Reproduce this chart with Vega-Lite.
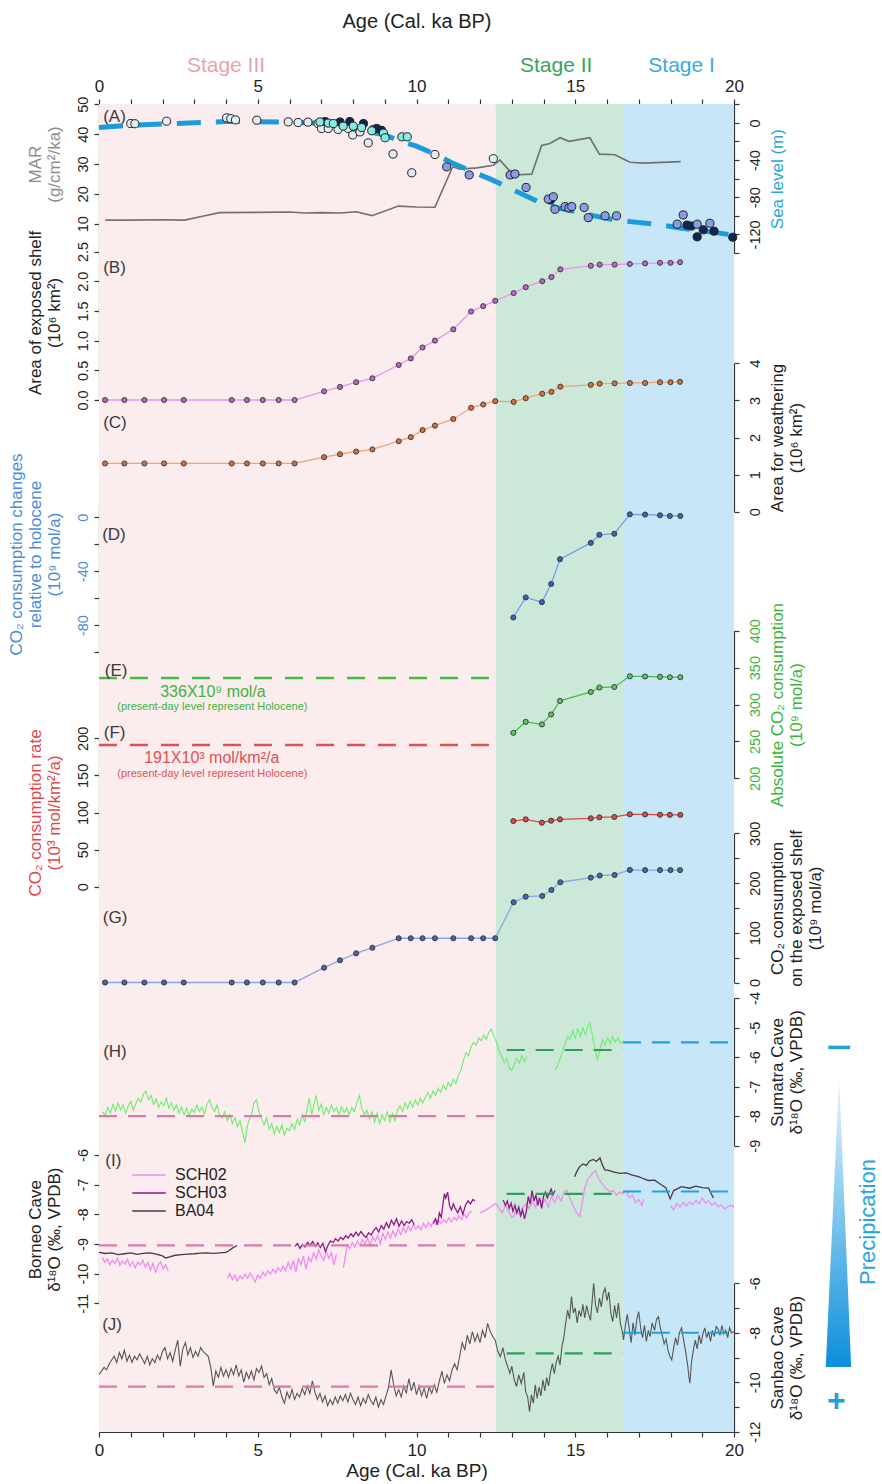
{
  "$schema": "https://vega.github.io/schema/vega-lite/v6.json",
  "width": 635,
  "height": 1328,
  "autosize": {"type": "none"},
  "padding": {"left": 99, "top": 104, "right": 148, "bottom": 52},
  "config": {
    "font": "Liberation Sans",
    "view": {"stroke": null},
    "axis": {
      "grid": false,
      "domainColor": "#333333",
      "tickColor": "#333333",
      "domainWidth": 1.2,
      "tickWidth": 1.2,
      "tickSize": 5,
      "labelColor": "#222222",
      "labelFontSize": 14.5,
      "labelOverlap": false,
      "titleFontSize": 17,
      "titleFontWeight": "normal",
      "titleColor": "#222222",
      "titleLineHeight": 19
    }
  },
  "datasets": {
    "stages": [
      {"stage": "III", "name": "Stage III", "start": 0, "end": 12.5, "labelAge": 4.0},
      {"stage": "II", "name": "Stage II", "start": 12.5, "end": 16.5, "labelAge": 14.4},
      {"stage": "I", "name": "Stage I", "start": 16.5, "end": 20, "labelAge": 18.35}
    ],
    "mar": [
      {"age": 0.2, "mar": 11.2}, {"age": 1.0, "mar": 11.2}, {"age": 2.0, "mar": 11.3}, {"age": 2.7, "mar": 11.2},
      {"age": 3.3, "mar": 12.6}, {"age": 3.8, "mar": 13.7}, {"age": 5.0, "mar": 13.8}, {"age": 6.0, "mar": 13.9},
      {"age": 6.5, "mar": 13.6}, {"age": 7.0, "mar": 13.7}, {"age": 7.6, "mar": 13.6}, {"age": 8.1, "mar": 14.0},
      {"age": 8.6, "mar": 12.7}, {"age": 9.43, "mar": 15.9}, {"age": 10.0, "mar": 15.6}, {"age": 10.58, "mar": 15.5},
      {"age": 11.14, "mar": 29.1}, {"age": 11.37, "mar": 28.3}, {"age": 11.9, "mar": 28.7}, {"age": 12.42, "mar": 29.6},
      {"age": 12.63, "mar": 31.3}, {"age": 13.05, "mar": 26.3}, {"age": 13.63, "mar": 26.6}, {"age": 13.94, "mar": 36.2},
      {"age": 14.2, "mar": 36.9}, {"age": 14.52, "mar": 38.8}, {"age": 14.8, "mar": 37.6}, {"age": 15.46, "mar": 38.8},
      {"age": 15.76, "mar": 33.3}, {"age": 16.25, "mar": 33.1}, {"age": 16.72, "mar": 30.6}, {"age": 17.14, "mar": 30.3},
      {"age": 18.32, "mar": 30.8}
    ],
    "sealevel_curve": [
      {"age": 0, "sl": -4.9}, {"age": 1, "sl": -2.5}, {"age": 2.4, "sl": -0.6}, {"age": 4, "sl": 1.5},
      {"age": 6, "sl": 1.0}, {"age": 7, "sl": -0.6}, {"age": 7.7, "sl": -3}, {"age": 8.4, "sl": -8.6},
      {"age": 9, "sl": -13}, {"age": 9.5, "sl": -19.7}, {"age": 10, "sl": -25}, {"age": 10.6, "sl": -34},
      {"age": 11.16, "sl": -43.7}, {"age": 11.8, "sl": -53}, {"age": 12.4, "sl": -61.6}, {"age": 13.1, "sl": -73},
      {"age": 13.8, "sl": -84.2}, {"age": 14.4, "sl": -91}, {"age": 15.04, "sl": -95.7}, {"age": 15.6, "sl": -100},
      {"age": 16.1, "sl": -103.5}, {"age": 16.8, "sl": -106.5}, {"age": 17.56, "sl": -109.2}, {"age": 18.3, "sl": -113},
      {"age": 19.1, "sl": -116.5}, {"age": 20, "sl": -120.8}
    ],
    "sealevel_points": [
      {"age": 1.0, "sl": -0.7, "src": "w"}, {"age": 1.13, "sl": -0.9, "src": "w"}, {"age": 2.13, "sl": 1.8, "src": "w"},
      {"age": 4.02, "sl": 5.4, "src": "w"}, {"age": 4.15, "sl": 4.6, "src": "w"}, {"age": 4.3, "sl": 3.2, "src": "w"},
      {"age": 4.97, "sl": 2.9, "src": "w"}, {"age": 5.96, "sl": 1.1, "src": "w"}, {"age": 6.27, "sl": 0.4, "src": "w"},
      {"age": 6.58, "sl": 0.8, "src": "w"}, {"age": 6.9, "sl": -0.7, "src": "w"}, {"age": 7.01, "sl": -6, "src": "w"},
      {"age": 7.22, "sl": -6, "src": "w"}, {"age": 7.53, "sl": -7, "src": "w"}, {"age": 7.85, "sl": -6, "src": "w"},
      {"age": 7.99, "sl": -13, "src": "w"}, {"age": 8.22, "sl": -9.7, "src": "w"}, {"age": 8.48, "sl": -21.5, "src": "w"},
      {"age": 8.64, "sl": -7, "src": "w"}, {"age": 9.26, "sl": -33.5, "src": "w"}, {"age": 9.85, "sl": -53.7, "src": "w"},
      {"age": 10.58, "sl": -34, "src": "w"}, {"age": 12.42, "sl": -38.5, "src": "w"},
      {"age": 7.12, "sl": 1.5, "src": "n"}, {"age": 7.59, "sl": 1.0, "src": "n"}, {"age": 7.9, "sl": 1.5, "src": "n"},
      {"age": 8.33, "sl": -0.7, "src": "n"}, {"age": 8.75, "sl": -6, "src": "n"}, {"age": 8.9, "sl": -8, "src": "n"},
      {"age": 6.96, "sl": 1.0, "src": "c"}, {"age": 7.22, "sl": -0.2, "src": "c"}, {"age": 7.38, "sl": -0.7, "src": "c"},
      {"age": 7.69, "sl": -3.5, "src": "c"}, {"age": 8.01, "sl": -3.5, "src": "c"}, {"age": 8.27, "sl": -5, "src": "c"},
      {"age": 8.59, "sl": -8.5, "src": "c"}, {"age": 8.96, "sl": -11, "src": "c"}, {"age": 9.01, "sl": -16, "src": "c"},
      {"age": 9.54, "sl": -15, "src": "c"}, {"age": 9.71, "sl": -15, "src": "c"},
      {"age": 14.22, "sl": -83, "src": "n"}, {"age": 18.52, "sl": -110, "src": "n"}, {"age": 18.66, "sl": -111, "src": "n"},
      {"age": 18.84, "sl": -122.6, "src": "n"}, {"age": 19.03, "sl": -115, "src": "n"}, {"age": 19.37, "sl": -116.5, "src": "n"},
      {"age": 19.96, "sl": -123, "src": "n"},
      {"age": 10.95, "sl": -47.3, "src": "b"}, {"age": 11.66, "sl": -56, "src": "b"}, {"age": 12.95, "sl": -56, "src": "b"},
      {"age": 13.1, "sl": -55, "src": "b"}, {"age": 13.45, "sl": -69.5, "src": "b"}, {"age": 14.15, "sl": -82, "src": "b"},
      {"age": 14.31, "sl": -79.5, "src": "b"}, {"age": 14.36, "sl": -93, "src": "b"}, {"age": 14.68, "sl": -90, "src": "b"},
      {"age": 14.8, "sl": -91.5, "src": "b"}, {"age": 14.89, "sl": -90, "src": "b"}, {"age": 15.28, "sl": -91, "src": "b"},
      {"age": 15.41, "sl": -102, "src": "b"}, {"age": 15.94, "sl": -100, "src": "b"}, {"age": 16.3, "sl": -100, "src": "b"},
      {"age": 18.21, "sl": -109, "src": "b"}, {"age": 18.4, "sl": -99, "src": "b"}, {"age": 18.84, "sl": -109, "src": "b"},
      {"age": 19.24, "sl": -108, "src": "b"}
    ],
    "shelf": [
      {"age": 0.19, "area": 0, "weather": 1.30, "shelfco2": 0},
      {"age": 0.8, "area": 0, "weather": 1.30, "shelfco2": 0},
      {"age": 1.43, "area": 0, "weather": 1.30, "shelfco2": 0},
      {"age": 2.05, "area": 0, "weather": 1.30, "shelfco2": 0},
      {"age": 2.67, "area": 0, "weather": 1.30, "shelfco2": 0},
      {"age": 4.18, "area": 0, "weather": 1.30, "shelfco2": 0},
      {"age": 4.66, "area": 0, "weather": 1.30, "shelfco2": 0},
      {"age": 5.16, "area": 0, "weather": 1.30, "shelfco2": 0},
      {"age": 5.66, "area": 0, "weather": 1.30, "shelfco2": 0},
      {"age": 6.16, "area": 0, "weather": 1.30, "shelfco2": 0},
      {"age": 7.09, "area": 0.146, "weather": 1.47, "shelfco2": 29.8},
      {"age": 7.59, "area": 0.22, "weather": 1.55, "shelfco2": 44.7},
      {"age": 8.1, "area": 0.30, "weather": 1.62, "shelfco2": 58.7},
      {"age": 8.61, "area": 0.365, "weather": 1.68, "shelfco2": 70},
      {"age": 9.44, "area": 0.59, "weather": 1.90, "shelfco2": 89},
      {"age": 9.82, "area": 0.70, "weather": 2.01, "shelfco2": 89},
      {"age": 10.19, "area": 0.885, "weather": 2.20, "shelfco2": 89},
      {"age": 10.58, "area": 1.0, "weather": 2.32, "shelfco2": 89},
      {"age": 11.16, "area": 1.19, "weather": 2.50, "shelfco2": 89},
      {"age": 11.72, "area": 1.49, "weather": 2.80, "shelfco2": 89},
      {"age": 12.1, "area": 1.58, "weather": 2.89, "shelfco2": 89},
      {"age": 12.48, "area": 1.67, "weather": 2.98, "shelfco2": 89},
      {"age": 13.06, "area": 1.80, "weather": 2.96, "shelfco2": 161.4},
      {"age": 13.44, "area": 1.90, "weather": 3.06, "shelfco2": 172.6},
      {"age": 13.96, "area": 2.0, "weather": 3.18, "shelfco2": 174},
      {"age": 14.25, "area": 2.07, "weather": 3.23, "shelfco2": 186},
      {"age": 14.53, "area": 2.2, "weather": 3.37, "shelfco2": 201.6},
      {"age": 15.49, "area": 2.26, "weather": 3.42, "shelfco2": 210.9},
      {"age": 15.77, "area": 2.28, "weather": 3.45, "shelfco2": 215},
      {"age": 16.24, "area": 2.28, "weather": 3.46, "shelfco2": 216.3},
      {"age": 16.72, "area": 2.29, "weather": 3.47, "shelfco2": 226.4},
      {"age": 17.2, "area": 2.30, "weather": 3.47, "shelfco2": 226},
      {"age": 17.67, "area": 2.31, "weather": 3.49, "shelfco2": 226},
      {"age": 18.0, "area": 2.31, "weather": 3.49, "shelfco2": 226},
      {"age": 18.3, "area": 2.32, "weather": 3.50, "shelfco2": 226}
    ],
    "co2": [
      {"age": 13.05, "change": -74.4, "absolute": 261.6, "rate": 88.5},
      {"age": 13.44, "change": -59.5, "absolute": 276.5, "rate": 90.8},
      {"age": 13.95, "change": -63.0, "absolute": 273.0, "rate": 86.3},
      {"age": 14.24, "change": -49.5, "absolute": 286.5, "rate": 89.0},
      {"age": 14.52, "change": -31.1, "absolute": 304.9, "rate": 90.8},
      {"age": 15.49, "change": -19.0, "absolute": 317.0, "rate": 92.2},
      {"age": 15.76, "change": -13.0, "absolute": 323.0, "rate": 93.5},
      {"age": 16.23, "change": -12.2, "absolute": 323.8, "rate": 94.0},
      {"age": 16.72, "change": 2.2, "absolute": 338.2, "rate": 97.6},
      {"age": 17.2, "change": 2.0, "absolute": 338.0, "rate": 97.4},
      {"age": 17.67, "change": 1.5, "absolute": 337.5, "rate": 97.0},
      {"age": 17.98, "change": 1.0, "absolute": 337.0, "rate": 96.8},
      {"age": 18.31, "change": 1.0, "absolute": 337.0, "rate": 96.8}
    ],
    "present_day": [
      {"panel": "E", "value": 336, "start": 0, "end": 12.5},
      {"panel": "F", "value": 191, "start": 0, "end": 12.5}
    ],
    "stage_means": [
      {"record": "H", "stage": "III", "start": 0, "end": 12.5, "mean": -8.0},
      {"record": "H", "stage": "II", "start": 12.84, "end": 16.5, "mean": -5.76},
      {"record": "H", "stage": "I", "start": 16.5, "end": 20, "mean": -5.5},
      {"record": "I", "stage": "III", "start": 0, "end": 12.5, "mean": -9.05},
      {"record": "I", "stage": "II", "start": 12.84, "end": 16.5, "mean": -7.31},
      {"record": "I", "stage": "I", "start": 16.5, "end": 20, "mean": -7.23},
      {"record": "J", "stage": "III", "start": 0, "end": 12.5, "mean": -10.18},
      {"record": "J", "stage": "II", "start": 12.84, "end": 16.5, "mean": -8.83},
      {"record": "J", "stage": "I", "start": 16.5, "end": 20, "mean": -8.0}
    ],
    "sumatra": [
      {"age": 0.10, "d18O": -7.85, "seg": 1}, {"age": 0.20, "d18O": -7.95, "seg": 1}, {"age": 0.28, "d18O": -7.70, "seg": 1},
      {"age": 0.36, "d18O": -7.90, "seg": 1}, {"age": 0.44, "d18O": -7.60, "seg": 1}, {"age": 0.52, "d18O": -7.82, "seg": 1},
      {"age": 0.60, "d18O": -7.55, "seg": 1}, {"age": 0.68, "d18O": -7.78, "seg": 1}, {"age": 0.76, "d18O": -7.62, "seg": 1},
      {"age": 0.84, "d18O": -7.90, "seg": 1}, {"age": 0.92, "d18O": -7.65, "seg": 1}, {"age": 1.00, "d18O": -7.50, "seg": 1},
      {"age": 1.08, "d18O": -7.80, "seg": 1}, {"age": 1.16, "d18O": -7.58, "seg": 1}, {"age": 1.24, "d18O": -7.40, "seg": 1},
      {"age": 1.32, "d18O": -7.52, "seg": 1}, {"age": 1.40, "d18O": -7.25, "seg": 1}, {"age": 1.48, "d18O": -7.15, "seg": 1},
      {"age": 1.56, "d18O": -7.45, "seg": 1}, {"age": 1.64, "d18O": -7.30, "seg": 1}, {"age": 1.72, "d18O": -7.60, "seg": 1},
      {"age": 1.80, "d18O": -7.42, "seg": 1}, {"age": 1.88, "d18O": -7.70, "seg": 1}, {"age": 1.96, "d18O": -7.52, "seg": 1},
      {"age": 2.04, "d18O": -7.65, "seg": 1}, {"age": 2.12, "d18O": -7.40, "seg": 1}, {"age": 2.20, "d18O": -7.72, "seg": 1},
      {"age": 2.28, "d18O": -7.55, "seg": 1}, {"age": 2.36, "d18O": -7.80, "seg": 1}, {"age": 2.44, "d18O": -7.62, "seg": 1},
      {"age": 2.52, "d18O": -7.90, "seg": 1}, {"age": 2.60, "d18O": -7.70, "seg": 1}, {"age": 2.68, "d18O": -7.95, "seg": 1},
      {"age": 2.76, "d18O": -7.72, "seg": 1}, {"age": 2.84, "d18O": -8.00, "seg": 1}, {"age": 2.92, "d18O": -7.76, "seg": 1},
      {"age": 3.00, "d18O": -7.88, "seg": 1}, {"age": 3.08, "d18O": -7.62, "seg": 1}, {"age": 3.16, "d18O": -7.84, "seg": 1},
      {"age": 3.24, "d18O": -7.70, "seg": 1}, {"age": 3.32, "d18O": -7.92, "seg": 1}, {"age": 3.40, "d18O": -7.60, "seg": 1},
      {"age": 3.48, "d18O": -7.45, "seg": 1}, {"age": 3.56, "d18O": -7.70, "seg": 1}, {"age": 3.64, "d18O": -7.85, "seg": 1},
      {"age": 3.72, "d18O": -7.62, "seg": 1}, {"age": 3.80, "d18O": -7.98, "seg": 1}, {"age": 3.88, "d18O": -8.05, "seg": 1},
      {"age": 3.96, "d18O": -7.85, "seg": 1}, {"age": 4.04, "d18O": -8.15, "seg": 1}, {"age": 4.12, "d18O": -7.95, "seg": 1},
      {"age": 4.20, "d18O": -8.25, "seg": 1}, {"age": 4.28, "d18O": -8.05, "seg": 1}, {"age": 4.36, "d18O": -8.35, "seg": 1},
      {"age": 4.44, "d18O": -8.15, "seg": 1}, {"age": 4.52, "d18O": -8.55, "seg": 1}, {"age": 4.60, "d18O": -8.90, "seg": 1},
      {"age": 4.66, "d18O": -8.40, "seg": 1}, {"age": 4.72, "d18O": -8.15, "seg": 1}, {"age": 4.80, "d18O": -7.95, "seg": 1},
      {"age": 4.88, "d18O": -7.55, "seg": 1}, {"age": 4.96, "d18O": -7.45, "seg": 1}, {"age": 5.04, "d18O": -7.85, "seg": 1},
      {"age": 5.12, "d18O": -8.10, "seg": 1}, {"age": 5.20, "d18O": -8.30, "seg": 1}, {"age": 5.28, "d18O": -8.05, "seg": 1},
      {"age": 5.36, "d18O": -8.45, "seg": 1}, {"age": 5.44, "d18O": -8.25, "seg": 1}, {"age": 5.52, "d18O": -8.60, "seg": 1},
      {"age": 5.60, "d18O": -8.35, "seg": 1}, {"age": 5.68, "d18O": -8.55, "seg": 1}, {"age": 5.76, "d18O": -8.30, "seg": 1},
      {"age": 5.84, "d18O": -8.65, "seg": 1}, {"age": 5.92, "d18O": -8.40, "seg": 1}, {"age": 6.00, "d18O": -8.50, "seg": 1},
      {"age": 6.08, "d18O": -8.25, "seg": 1}, {"age": 6.16, "d18O": -8.45, "seg": 1}, {"age": 6.24, "d18O": -8.10, "seg": 1},
      {"age": 6.32, "d18O": -8.30, "seg": 1}, {"age": 6.40, "d18O": -7.95, "seg": 1}, {"age": 6.48, "d18O": -8.20, "seg": 1},
      {"age": 6.56, "d18O": -7.70, "seg": 1}, {"age": 6.62, "d18O": -7.40, "seg": 1}, {"age": 6.70, "d18O": -7.95, "seg": 1},
      {"age": 6.78, "d18O": -7.55, "seg": 1}, {"age": 6.84, "d18O": -7.30, "seg": 1}, {"age": 6.92, "d18O": -7.80, "seg": 1},
      {"age": 7.00, "d18O": -7.60, "seg": 1}, {"age": 7.08, "d18O": -7.95, "seg": 1}, {"age": 7.16, "d18O": -7.70, "seg": 1},
      {"age": 7.24, "d18O": -7.90, "seg": 1}, {"age": 7.32, "d18O": -7.62, "seg": 1}, {"age": 7.40, "d18O": -7.85, "seg": 1},
      {"age": 7.48, "d18O": -7.70, "seg": 1}, {"age": 7.56, "d18O": -7.95, "seg": 1}, {"age": 7.64, "d18O": -7.68, "seg": 1},
      {"age": 7.72, "d18O": -7.88, "seg": 1}, {"age": 7.80, "d18O": -7.72, "seg": 1}, {"age": 7.88, "d18O": -7.95, "seg": 1},
      {"age": 7.96, "d18O": -7.70, "seg": 1}, {"age": 8.04, "d18O": -7.85, "seg": 1}, {"age": 8.12, "d18O": -7.55, "seg": 1},
      {"age": 8.20, "d18O": -7.30, "seg": 1}, {"age": 8.28, "d18O": -7.75, "seg": 1}, {"age": 8.36, "d18O": -7.95, "seg": 1},
      {"age": 8.44, "d18O": -7.80, "seg": 1}, {"age": 8.52, "d18O": -8.10, "seg": 1}, {"age": 8.60, "d18O": -7.85, "seg": 1},
      {"age": 8.68, "d18O": -8.20, "seg": 1}, {"age": 8.76, "d18O": -7.90, "seg": 1}, {"age": 8.84, "d18O": -8.25, "seg": 1},
      {"age": 8.92, "d18O": -7.95, "seg": 1}, {"age": 9.00, "d18O": -8.15, "seg": 1}, {"age": 9.08, "d18O": -7.85, "seg": 1},
      {"age": 9.16, "d18O": -8.20, "seg": 1}, {"age": 9.24, "d18O": -7.90, "seg": 1}, {"age": 9.32, "d18O": -8.15, "seg": 1},
      {"age": 9.40, "d18O": -7.80, "seg": 1}, {"age": 9.48, "d18O": -7.65, "seg": 1}, {"age": 9.56, "d18O": -7.85, "seg": 1},
      {"age": 9.64, "d18O": -7.55, "seg": 1}, {"age": 9.72, "d18O": -7.75, "seg": 1}, {"age": 9.80, "d18O": -7.50, "seg": 1},
      {"age": 9.88, "d18O": -7.70, "seg": 1}, {"age": 9.96, "d18O": -7.45, "seg": 1}, {"age": 10.04, "d18O": -7.62, "seg": 1},
      {"age": 10.12, "d18O": -7.40, "seg": 1}, {"age": 10.20, "d18O": -7.55, "seg": 1}, {"age": 10.28, "d18O": -7.35, "seg": 1},
      {"age": 10.36, "d18O": -7.20, "seg": 1}, {"age": 10.44, "d18O": -7.40, "seg": 1}, {"age": 10.52, "d18O": -7.15, "seg": 1},
      {"age": 10.60, "d18O": -7.30, "seg": 1}, {"age": 10.68, "d18O": -7.05, "seg": 1}, {"age": 10.76, "d18O": -7.20, "seg": 1},
      {"age": 10.84, "d18O": -6.95, "seg": 1}, {"age": 10.92, "d18O": -7.10, "seg": 1}, {"age": 11.00, "d18O": -6.85, "seg": 1},
      {"age": 11.08, "d18O": -7.00, "seg": 1}, {"age": 11.16, "d18O": -6.75, "seg": 1}, {"age": 11.24, "d18O": -6.90, "seg": 1},
      {"age": 11.32, "d18O": -6.60, "seg": 1}, {"age": 11.40, "d18O": -6.45, "seg": 1}, {"age": 11.48, "d18O": -6.10, "seg": 1},
      {"age": 11.56, "d18O": -5.85, "seg": 1}, {"age": 11.64, "d18O": -5.95, "seg": 1}, {"age": 11.72, "d18O": -5.65, "seg": 1},
      {"age": 11.80, "d18O": -5.50, "seg": 1}, {"age": 11.88, "d18O": -5.60, "seg": 1}, {"age": 11.96, "d18O": -5.35, "seg": 1},
      {"age": 12.04, "d18O": -5.45, "seg": 1}, {"age": 12.12, "d18O": -5.25, "seg": 1}, {"age": 12.20, "d18O": -5.40, "seg": 1},
      {"age": 12.28, "d18O": -5.15, "seg": 1}, {"age": 12.36, "d18O": -5.05, "seg": 1}, {"age": 12.44, "d18O": -5.30, "seg": 1},
      {"age": 12.52, "d18O": -5.50, "seg": 1}, {"age": 12.60, "d18O": -5.80, "seg": 1}, {"age": 12.68, "d18O": -5.95, "seg": 1},
      {"age": 12.76, "d18O": -6.20, "seg": 1}, {"age": 12.84, "d18O": -6.05, "seg": 1}, {"age": 12.92, "d18O": -6.35, "seg": 1},
      {"age": 13.00, "d18O": -6.45, "seg": 1}, {"age": 13.08, "d18O": -6.25, "seg": 1}, {"age": 13.16, "d18O": -6.05, "seg": 1},
      {"age": 13.24, "d18O": -6.20, "seg": 1}, {"age": 13.32, "d18O": -5.95, "seg": 1}, {"age": 13.40, "d18O": -6.15, "seg": 1},
      {"age": 13.48, "d18O": -6.00, "seg": 1},
      {"age": 14.36, "d18O": -6.45, "seg": 2}, {"age": 14.44, "d18O": -6.30, "seg": 2}, {"age": 14.52, "d18O": -6.05, "seg": 2},
      {"age": 14.60, "d18O": -5.80, "seg": 2}, {"age": 14.68, "d18O": -5.55, "seg": 2}, {"age": 14.76, "d18O": -5.30, "seg": 2},
      {"age": 14.84, "d18O": -5.40, "seg": 2}, {"age": 14.92, "d18O": -5.10, "seg": 2}, {"age": 15.00, "d18O": -5.35, "seg": 2},
      {"age": 15.08, "d18O": -5.05, "seg": 2}, {"age": 15.16, "d18O": -5.30, "seg": 2}, {"age": 15.24, "d18O": -5.00, "seg": 2},
      {"age": 15.32, "d18O": -5.25, "seg": 2}, {"age": 15.40, "d18O": -4.95, "seg": 2}, {"age": 15.46, "d18O": -4.85, "seg": 2},
      {"age": 15.54, "d18O": -5.25, "seg": 2}, {"age": 15.62, "d18O": -5.70, "seg": 2}, {"age": 15.70, "d18O": -6.10, "seg": 2},
      {"age": 15.78, "d18O": -5.75, "seg": 2}, {"age": 15.86, "d18O": -5.40, "seg": 2}, {"age": 15.94, "d18O": -5.60, "seg": 2},
      {"age": 16.02, "d18O": -5.35, "seg": 2}, {"age": 16.10, "d18O": -5.55, "seg": 2}, {"age": 16.18, "d18O": -5.30, "seg": 2},
      {"age": 16.26, "d18O": -5.50, "seg": 2}, {"age": 16.34, "d18O": -5.35, "seg": 2}, {"age": 16.42, "d18O": -5.55, "seg": 2},
      {"age": 16.50, "d18O": -5.45, "seg": 2}
    ],
    "borneo": [
      {"age": 0.10, "d18O": -9.45, "series": "SCH02", "seg": "a"}, {"age": 0.18, "d18O": -9.62, "series": "SCH02", "seg": "a"},
      {"age": 0.26, "d18O": -9.50, "series": "SCH02", "seg": "a"}, {"age": 0.34, "d18O": -9.70, "series": "SCH02", "seg": "a"},
      {"age": 0.42, "d18O": -9.55, "series": "SCH02", "seg": "a"}, {"age": 0.50, "d18O": -9.65, "series": "SCH02", "seg": "a"},
      {"age": 0.58, "d18O": -9.48, "series": "SCH02", "seg": "a"}, {"age": 0.66, "d18O": -9.72, "series": "SCH02", "seg": "a"},
      {"age": 0.74, "d18O": -9.58, "series": "SCH02", "seg": "a"}, {"age": 0.82, "d18O": -9.68, "series": "SCH02", "seg": "a"},
      {"age": 0.90, "d18O": -9.52, "series": "SCH02", "seg": "a"}, {"age": 0.98, "d18O": -9.75, "series": "SCH02", "seg": "a"},
      {"age": 1.06, "d18O": -9.60, "series": "SCH02", "seg": "a"}, {"age": 1.14, "d18O": -9.80, "series": "SCH02", "seg": "a"},
      {"age": 1.22, "d18O": -9.62, "series": "SCH02", "seg": "a"}, {"age": 1.30, "d18O": -9.70, "series": "SCH02", "seg": "a"},
      {"age": 1.38, "d18O": -9.55, "series": "SCH02", "seg": "a"}, {"age": 1.46, "d18O": -9.78, "series": "SCH02", "seg": "a"},
      {"age": 1.54, "d18O": -9.62, "series": "SCH02", "seg": "a"}, {"age": 1.62, "d18O": -9.88, "series": "SCH02", "seg": "a"},
      {"age": 1.70, "d18O": -9.66, "series": "SCH02", "seg": "a"}, {"age": 1.78, "d18O": -9.95, "series": "SCH02", "seg": "a"},
      {"age": 1.86, "d18O": -9.72, "series": "SCH02", "seg": "a"}, {"age": 1.94, "d18O": -9.60, "series": "SCH02", "seg": "a"},
      {"age": 2.02, "d18O": -9.85, "series": "SCH02", "seg": "a"}, {"age": 2.10, "d18O": -9.70, "series": "SCH02", "seg": "a"},
      {"age": 2.18, "d18O": -9.92, "series": "SCH02", "seg": "a"},
      {"age": 4.05, "d18O": -10.15, "series": "SCH02", "seg": "b"}, {"age": 4.12, "d18O": -10.00, "series": "SCH02", "seg": "b"},
      {"age": 4.20, "d18O": -10.20, "series": "SCH02", "seg": "b"}, {"age": 4.28, "d18O": -10.05, "series": "SCH02", "seg": "b"},
      {"age": 4.36, "d18O": -10.25, "series": "SCH02", "seg": "b"}, {"age": 4.44, "d18O": -10.08, "series": "SCH02", "seg": "b"},
      {"age": 4.52, "d18O": -10.18, "series": "SCH02", "seg": "b"}, {"age": 4.60, "d18O": -10.02, "series": "SCH02", "seg": "b"},
      {"age": 4.68, "d18O": -10.15, "series": "SCH02", "seg": "b"}, {"age": 4.76, "d18O": -9.98, "series": "SCH02", "seg": "b"},
      {"age": 4.84, "d18O": -10.12, "series": "SCH02", "seg": "b"}, {"age": 4.92, "d18O": -10.28, "series": "SCH02", "seg": "b"},
      {"age": 5.00, "d18O": -10.05, "series": "SCH02", "seg": "b"}, {"age": 5.08, "d18O": -10.15, "series": "SCH02", "seg": "b"},
      {"age": 5.16, "d18O": -9.95, "series": "SCH02", "seg": "b"}, {"age": 5.24, "d18O": -10.08, "series": "SCH02", "seg": "b"},
      {"age": 5.32, "d18O": -9.90, "series": "SCH02", "seg": "b"}, {"age": 5.40, "d18O": -10.02, "series": "SCH02", "seg": "b"},
      {"age": 5.48, "d18O": -9.85, "series": "SCH02", "seg": "b"}, {"age": 5.56, "d18O": -9.98, "series": "SCH02", "seg": "b"},
      {"age": 5.64, "d18O": -9.80, "series": "SCH02", "seg": "b"}, {"age": 5.72, "d18O": -9.92, "series": "SCH02", "seg": "b"},
      {"age": 5.80, "d18O": -9.75, "series": "SCH02", "seg": "b"}, {"age": 5.88, "d18O": -9.90, "series": "SCH02", "seg": "b"},
      {"age": 5.96, "d18O": -9.62, "series": "SCH02", "seg": "b"}, {"age": 6.04, "d18O": -9.85, "series": "SCH02", "seg": "b"},
      {"age": 6.12, "d18O": -9.55, "series": "SCH02", "seg": "b"}, {"age": 6.20, "d18O": -9.95, "series": "SCH02", "seg": "b"},
      {"age": 6.28, "d18O": -9.50, "series": "SCH02", "seg": "b"}, {"age": 6.36, "d18O": -9.70, "series": "SCH02", "seg": "b"},
      {"age": 6.44, "d18O": -9.40, "series": "SCH02", "seg": "b"}, {"age": 6.52, "d18O": -9.85, "series": "SCH02", "seg": "b"},
      {"age": 6.60, "d18O": -9.45, "series": "SCH02", "seg": "b"}, {"age": 6.68, "d18O": -9.60, "series": "SCH02", "seg": "b"},
      {"age": 6.76, "d18O": -9.30, "series": "SCH02", "seg": "b"}, {"age": 6.84, "d18O": -9.52, "series": "SCH02", "seg": "b"},
      {"age": 6.92, "d18O": -9.20, "series": "SCH02", "seg": "b"}, {"age": 7.00, "d18O": -9.40, "series": "SCH02", "seg": "b"},
      {"age": 7.08, "d18O": -9.55, "series": "SCH02", "seg": "b"}, {"age": 7.16, "d18O": -9.25, "series": "SCH02", "seg": "b"},
      {"age": 7.24, "d18O": -9.48, "series": "SCH02", "seg": "b"}, {"age": 7.32, "d18O": -9.30, "series": "SCH02", "seg": "b"},
      {"age": 7.40, "d18O": -9.70, "series": "SCH02", "seg": "b"}, {"age": 7.48, "d18O": -9.35, "series": "SCH02", "seg": "b"},
      {"age": 7.70, "d18O": -9.80, "series": "SCH02", "seg": "c"}, {"age": 7.76, "d18O": -9.40, "series": "SCH02", "seg": "c"},
      {"age": 7.82, "d18O": -9.05, "series": "SCH02", "seg": "c"}, {"age": 7.90, "d18O": -9.15, "series": "SCH02", "seg": "c"},
      {"age": 7.98, "d18O": -8.95, "series": "SCH02", "seg": "c"}, {"age": 8.06, "d18O": -9.10, "series": "SCH02", "seg": "c"},
      {"age": 8.14, "d18O": -8.90, "series": "SCH02", "seg": "c"}, {"age": 8.22, "d18O": -9.05, "series": "SCH02", "seg": "c"},
      {"age": 8.30, "d18O": -8.85, "series": "SCH02", "seg": "c"}, {"age": 8.38, "d18O": -9.00, "series": "SCH02", "seg": "c"},
      {"age": 8.46, "d18O": -8.80, "series": "SCH02", "seg": "c"}, {"age": 8.54, "d18O": -9.05, "series": "SCH02", "seg": "c"},
      {"age": 8.62, "d18O": -8.75, "series": "SCH02", "seg": "c"}, {"age": 8.70, "d18O": -8.90, "series": "SCH02", "seg": "c"},
      {"age": 8.78, "d18O": -8.70, "series": "SCH02", "seg": "c"}, {"age": 8.86, "d18O": -9.00, "series": "SCH02", "seg": "c"},
      {"age": 8.94, "d18O": -8.65, "series": "SCH02", "seg": "c"}, {"age": 9.02, "d18O": -8.85, "series": "SCH02", "seg": "c"},
      {"age": 9.10, "d18O": -8.60, "series": "SCH02", "seg": "c"}, {"age": 9.18, "d18O": -8.80, "series": "SCH02", "seg": "c"},
      {"age": 9.26, "d18O": -8.55, "series": "SCH02", "seg": "c"}, {"age": 9.34, "d18O": -8.75, "series": "SCH02", "seg": "c"},
      {"age": 9.42, "d18O": -8.50, "series": "SCH02", "seg": "c"}, {"age": 9.50, "d18O": -8.68, "series": "SCH02", "seg": "c"},
      {"age": 9.58, "d18O": -8.45, "series": "SCH02", "seg": "c"}, {"age": 9.66, "d18O": -8.62, "series": "SCH02", "seg": "c"},
      {"age": 9.74, "d18O": -8.40, "series": "SCH02", "seg": "c"}, {"age": 9.82, "d18O": -8.55, "series": "SCH02", "seg": "c"},
      {"age": 9.90, "d18O": -8.35, "series": "SCH02", "seg": "c"}, {"age": 9.98, "d18O": -8.50, "series": "SCH02", "seg": "c"},
      {"age": 10.06, "d18O": -8.38, "series": "SCH02", "seg": "c"}, {"age": 10.14, "d18O": -8.52, "series": "SCH02", "seg": "c"},
      {"age": 10.22, "d18O": -8.30, "series": "SCH02", "seg": "c"}, {"age": 10.30, "d18O": -8.45, "series": "SCH02", "seg": "c"},
      {"age": 10.38, "d18O": -8.28, "series": "SCH02", "seg": "c"}, {"age": 10.46, "d18O": -8.40, "series": "SCH02", "seg": "c"},
      {"age": 10.54, "d18O": -8.25, "series": "SCH02", "seg": "c"}, {"age": 10.62, "d18O": -8.35, "series": "SCH02", "seg": "c"},
      {"age": 10.70, "d18O": -8.22, "series": "SCH02", "seg": "c"}, {"age": 10.78, "d18O": -8.30, "series": "SCH02", "seg": "c"},
      {"age": 10.86, "d18O": -8.18, "series": "SCH02", "seg": "c"}, {"age": 10.94, "d18O": -8.28, "series": "SCH02", "seg": "c"},
      {"age": 11.02, "d18O": -8.12, "series": "SCH02", "seg": "c"}, {"age": 11.10, "d18O": -8.25, "series": "SCH02", "seg": "c"},
      {"age": 11.18, "d18O": -8.10, "series": "SCH02", "seg": "c"}, {"age": 11.26, "d18O": -8.20, "series": "SCH02", "seg": "c"},
      {"age": 11.34, "d18O": -8.05, "series": "SCH02", "seg": "c"}, {"age": 11.42, "d18O": -8.18, "series": "SCH02", "seg": "c"},
      {"age": 11.50, "d18O": -8.00, "series": "SCH02", "seg": "c"}, {"age": 11.58, "d18O": -8.12, "series": "SCH02", "seg": "c"},
      {"age": 11.66, "d18O": -7.95, "series": "SCH02", "seg": "c"}, {"age": 11.74, "d18O": -7.90, "series": "SCH02", "seg": "c"},
      {"age": 12.0, "d18O": -7.95, "series": "SCH02", "seg": "d"}, {"age": 12.2, "d18O": -7.85, "series": "SCH02", "seg": "d"},
      {"age": 12.4, "d18O": -7.70, "series": "SCH02", "seg": "d"}, {"age": 12.5, "d18O": -7.63, "series": "SCH02", "seg": "d"},
      {"age": 12.6, "d18O": -7.80, "series": "SCH02", "seg": "d"}, {"age": 12.7, "d18O": -7.95, "series": "SCH02", "seg": "d"},
      {"age": 12.8, "d18O": -7.70, "series": "SCH02", "seg": "d"}, {"age": 12.9, "d18O": -7.90, "series": "SCH02", "seg": "d"},
      {"age": 13.0, "d18O": -8.10, "series": "SCH02", "seg": "d"}, {"age": 13.05, "d18O": -8.08, "series": "SCH02", "seg": "d"},
      {"age": 13.15, "d18O": -7.85, "series": "SCH02", "seg": "d"}, {"age": 13.25, "d18O": -8.00, "series": "SCH02", "seg": "d"},
      {"age": 13.35, "d18O": -7.75, "series": "SCH02", "seg": "d"}, {"age": 13.47, "d18O": -7.63, "series": "SCH02", "seg": "d"},
      {"age": 13.55, "d18O": -7.80, "series": "SCH02", "seg": "d"}, {"age": 13.65, "d18O": -7.55, "series": "SCH02", "seg": "d"},
      {"age": 13.75, "d18O": -7.75, "series": "SCH02", "seg": "d"}, {"age": 13.85, "d18O": -7.45, "series": "SCH02", "seg": "d"},
      {"age": 13.95, "d18O": -7.70, "series": "SCH02", "seg": "d"}, {"age": 14.05, "d18O": -7.50, "series": "SCH02", "seg": "d"},
      {"age": 14.15, "d18O": -7.75, "series": "SCH02", "seg": "d"}, {"age": 14.25, "d18O": -7.40, "series": "SCH02", "seg": "d"},
      {"age": 14.35, "d18O": -7.60, "series": "SCH02", "seg": "d"}, {"age": 14.45, "d18O": -7.35, "series": "SCH02", "seg": "d"},
      {"age": 14.55, "d18O": -7.55, "series": "SCH02", "seg": "d"}, {"age": 14.65, "d18O": -7.25, "series": "SCH02", "seg": "d"},
      {"age": 14.73, "d18O": -7.18, "series": "SCH02", "seg": "d"}, {"age": 14.85, "d18O": -7.50, "series": "SCH02", "seg": "d"},
      {"age": 14.95, "d18O": -7.75, "series": "SCH02", "seg": "d"}, {"age": 15.05, "d18O": -7.95, "series": "SCH02", "seg": "d"},
      {"age": 15.14, "d18O": -8.08, "series": "SCH02", "seg": "d"}, {"age": 15.22, "d18O": -7.60, "series": "SCH02", "seg": "d"},
      {"age": 15.30, "d18O": -7.10, "series": "SCH02", "seg": "d"}, {"age": 15.38, "d18O": -6.85, "series": "SCH02", "seg": "d"},
      {"age": 15.46, "d18O": -6.73, "series": "SCH02", "seg": "d"}, {"age": 15.55, "d18O": -6.60, "series": "SCH02", "seg": "d"},
      {"age": 15.63, "d18O": -6.53, "series": "SCH02", "seg": "d"}, {"age": 15.72, "d18O": -6.75, "series": "SCH02", "seg": "d"},
      {"age": 15.80, "d18O": -6.90, "series": "SCH02", "seg": "d"}, {"age": 15.90, "d18O": -7.05, "series": "SCH02", "seg": "d"},
      {"age": 15.99, "d18O": -7.15, "series": "SCH02", "seg": "d"}, {"age": 16.10, "d18O": -7.25, "series": "SCH02", "seg": "d"},
      {"age": 16.2, "d18O": -7.20, "series": "SCH02", "seg": "d"}, {"age": 16.3, "d18O": -7.35, "series": "SCH02", "seg": "d"},
      {"age": 16.4, "d18O": -7.25, "series": "SCH02", "seg": "d"}, {"age": 16.5, "d18O": -7.30, "series": "SCH02", "seg": "d"},
      {"age": 16.6, "d18O": -7.20, "series": "SCH02", "seg": "d"}, {"age": 16.7, "d18O": -7.45, "series": "SCH02", "seg": "d"},
      {"age": 16.8, "d18O": -7.35, "series": "SCH02", "seg": "d"}, {"age": 16.9, "d18O": -7.60, "series": "SCH02", "seg": "d"},
      {"age": 17.0, "d18O": -7.50, "series": "SCH02", "seg": "d"}, {"age": 17.1, "d18O": -7.70, "series": "SCH02", "seg": "d"},
      {"age": 17.15, "d18O": -7.50, "series": "SCH02", "seg": "d"},
      {"age": 18.0, "d18O": -7.70, "series": "SCH02", "seg": "e"}, {"age": 18.1, "d18O": -7.85, "series": "SCH02", "seg": "e"},
      {"age": 18.2, "d18O": -7.63, "series": "SCH02", "seg": "e"}, {"age": 18.3, "d18O": -7.75, "series": "SCH02", "seg": "e"},
      {"age": 18.4, "d18O": -7.60, "series": "SCH02", "seg": "e"}, {"age": 18.5, "d18O": -7.72, "series": "SCH02", "seg": "e"},
      {"age": 18.6, "d18O": -7.58, "series": "SCH02", "seg": "e"}, {"age": 18.7, "d18O": -7.68, "series": "SCH02", "seg": "e"},
      {"age": 18.8, "d18O": -7.52, "series": "SCH02", "seg": "e"}, {"age": 18.9, "d18O": -7.65, "series": "SCH02", "seg": "e"},
      {"age": 19.0, "d18O": -7.45, "series": "SCH02", "seg": "e"}, {"age": 19.1, "d18O": -7.62, "series": "SCH02", "seg": "e"},
      {"age": 19.2, "d18O": -7.55, "series": "SCH02", "seg": "e"}, {"age": 19.3, "d18O": -7.70, "series": "SCH02", "seg": "e"},
      {"age": 19.4, "d18O": -7.60, "series": "SCH02", "seg": "e"}, {"age": 19.5, "d18O": -7.75, "series": "SCH02", "seg": "e"},
      {"age": 19.6, "d18O": -7.68, "series": "SCH02", "seg": "e"}, {"age": 19.7, "d18O": -7.82, "series": "SCH02", "seg": "e"},
      {"age": 19.8, "d18O": -7.75, "series": "SCH02", "seg": "e"}, {"age": 19.9, "d18O": -7.70, "series": "SCH02", "seg": "e"},
      {"age": 20.0, "d18O": -7.75, "series": "SCH02", "seg": "e"},
      {"age": 6.17, "d18O": -9.08, "series": "SCH03", "seg": "a"}, {"age": 6.25, "d18O": -8.98, "series": "SCH03", "seg": "a"},
      {"age": 6.33, "d18O": -9.15, "series": "SCH03", "seg": "a"}, {"age": 6.41, "d18O": -9.02, "series": "SCH03", "seg": "a"},
      {"age": 6.49, "d18O": -9.10, "series": "SCH03", "seg": "a"}, {"age": 6.57, "d18O": -8.95, "series": "SCH03", "seg": "a"},
      {"age": 6.65, "d18O": -9.05, "series": "SCH03", "seg": "a"}, {"age": 6.73, "d18O": -8.92, "series": "SCH03", "seg": "a"},
      {"age": 6.81, "d18O": -9.08, "series": "SCH03", "seg": "a"}, {"age": 6.89, "d18O": -8.96, "series": "SCH03", "seg": "a"},
      {"age": 6.97, "d18O": -9.12, "series": "SCH03", "seg": "a"}, {"age": 7.05, "d18O": -8.98, "series": "SCH03", "seg": "a"},
      {"age": 7.13, "d18O": -9.25, "series": "SCH03", "seg": "a"}, {"age": 7.21, "d18O": -9.05, "series": "SCH03", "seg": "a"},
      {"age": 7.29, "d18O": -8.90, "series": "SCH03", "seg": "a"}, {"age": 7.37, "d18O": -8.95, "series": "SCH03", "seg": "a"},
      {"age": 7.45, "d18O": -8.82, "series": "SCH03", "seg": "a"}, {"age": 7.53, "d18O": -8.90, "series": "SCH03", "seg": "a"},
      {"age": 7.61, "d18O": -8.78, "series": "SCH03", "seg": "a"}, {"age": 7.69, "d18O": -8.85, "series": "SCH03", "seg": "a"},
      {"age": 7.77, "d18O": -8.72, "series": "SCH03", "seg": "a"}, {"age": 7.85, "d18O": -8.80, "series": "SCH03", "seg": "a"},
      {"age": 7.93, "d18O": -8.66, "series": "SCH03", "seg": "a"}, {"age": 8.01, "d18O": -8.75, "series": "SCH03", "seg": "a"},
      {"age": 8.09, "d18O": -8.60, "series": "SCH03", "seg": "a"}, {"age": 8.17, "d18O": -8.72, "series": "SCH03", "seg": "a"},
      {"age": 8.25, "d18O": -8.58, "series": "SCH03", "seg": "a"}, {"age": 8.33, "d18O": -8.70, "series": "SCH03", "seg": "a"},
      {"age": 8.41, "d18O": -8.78, "series": "SCH03", "seg": "a"}, {"age": 8.49, "d18O": -8.62, "series": "SCH03", "seg": "a"},
      {"age": 8.57, "d18O": -8.70, "series": "SCH03", "seg": "a"}, {"age": 8.65, "d18O": -8.55, "series": "SCH03", "seg": "a"},
      {"age": 8.73, "d18O": -8.45, "series": "SCH03", "seg": "a"}, {"age": 8.81, "d18O": -8.60, "series": "SCH03", "seg": "a"},
      {"age": 8.89, "d18O": -8.38, "series": "SCH03", "seg": "a"}, {"age": 8.97, "d18O": -8.50, "series": "SCH03", "seg": "a"},
      {"age": 9.05, "d18O": -8.28, "series": "SCH03", "seg": "a"}, {"age": 9.13, "d18O": -8.45, "series": "SCH03", "seg": "a"},
      {"age": 9.21, "d18O": -8.20, "series": "SCH03", "seg": "a"}, {"age": 9.29, "d18O": -8.35, "series": "SCH03", "seg": "a"},
      {"age": 9.37, "d18O": -8.15, "series": "SCH03", "seg": "a"}, {"age": 9.45, "d18O": -8.40, "series": "SCH03", "seg": "a"},
      {"age": 9.53, "d18O": -8.22, "series": "SCH03", "seg": "a"}, {"age": 9.61, "d18O": -8.38, "series": "SCH03", "seg": "a"},
      {"age": 9.69, "d18O": -8.25, "series": "SCH03", "seg": "a"}, {"age": 9.77, "d18O": -8.30, "series": "SCH03", "seg": "a"},
      {"age": 9.85, "d18O": -8.18, "series": "SCH03", "seg": "a"}, {"age": 9.93, "d18O": -8.35, "series": "SCH03", "seg": "a"},
      {"age": 10.53, "d18O": -8.30, "series": "SCH03", "seg": "b"}, {"age": 10.60, "d18O": -8.15, "series": "SCH03", "seg": "b"},
      {"age": 10.66, "d18O": -8.35, "series": "SCH03", "seg": "b"}, {"age": 10.72, "d18O": -7.95, "series": "SCH03", "seg": "b"},
      {"age": 10.78, "d18O": -8.10, "series": "SCH03", "seg": "b"}, {"age": 10.84, "d18O": -7.60, "series": "SCH03", "seg": "b"},
      {"age": 10.88, "d18O": -7.30, "series": "SCH03", "seg": "b"}, {"age": 10.92, "d18O": -7.45, "series": "SCH03", "seg": "b"},
      {"age": 10.98, "d18O": -7.25, "series": "SCH03", "seg": "b"}, {"age": 11.04, "d18O": -7.70, "series": "SCH03", "seg": "b"},
      {"age": 11.10, "d18O": -7.85, "series": "SCH03", "seg": "b"}, {"age": 11.16, "d18O": -7.65, "series": "SCH03", "seg": "b"},
      {"age": 11.22, "d18O": -7.80, "series": "SCH03", "seg": "b"}, {"age": 11.30, "d18O": -7.95, "series": "SCH03", "seg": "b"},
      {"age": 11.38, "d18O": -7.75, "series": "SCH03", "seg": "b"}, {"age": 11.46, "d18O": -8.00, "series": "SCH03", "seg": "b"},
      {"age": 11.54, "d18O": -7.70, "series": "SCH03", "seg": "b"}, {"age": 11.62, "d18O": -7.55, "series": "SCH03", "seg": "b"},
      {"age": 11.70, "d18O": -7.65, "series": "SCH03", "seg": "b"}, {"age": 11.78, "d18O": -7.50, "series": "SCH03", "seg": "b"},
      {"age": 11.84, "d18O": -7.55, "series": "SCH03", "seg": "b"},
      {"age": 12.73, "d18O": -7.52, "series": "SCH03", "seg": "c"}, {"age": 12.80, "d18O": -7.70, "series": "SCH03", "seg": "c"},
      {"age": 12.86, "d18O": -7.55, "series": "SCH03", "seg": "c"}, {"age": 12.92, "d18O": -7.80, "series": "SCH03", "seg": "c"},
      {"age": 12.98, "d18O": -7.62, "series": "SCH03", "seg": "c"}, {"age": 13.04, "d18O": -7.90, "series": "SCH03", "seg": "c"},
      {"age": 13.10, "d18O": -7.70, "series": "SCH03", "seg": "c"}, {"age": 13.16, "d18O": -7.95, "series": "SCH03", "seg": "c"},
      {"age": 13.22, "d18O": -7.75, "series": "SCH03", "seg": "c"}, {"age": 13.28, "d18O": -8.05, "series": "SCH03", "seg": "c"},
      {"age": 13.34, "d18O": -7.85, "series": "SCH03", "seg": "c"}, {"age": 13.40, "d18O": -8.15, "series": "SCH03", "seg": "c"},
      {"age": 13.46, "d18O": -7.90, "series": "SCH03", "seg": "c"}, {"age": 13.52, "d18O": -7.40, "series": "SCH03", "seg": "c"},
      {"age": 13.58, "d18O": -7.65, "series": "SCH03", "seg": "c"}, {"age": 13.64, "d18O": -7.20, "series": "SCH03", "seg": "c"},
      {"age": 13.70, "d18O": -7.55, "series": "SCH03", "seg": "c"}, {"age": 13.76, "d18O": -7.35, "series": "SCH03", "seg": "c"},
      {"age": 13.82, "d18O": -7.70, "series": "SCH03", "seg": "c"}, {"age": 13.88, "d18O": -7.45, "series": "SCH03", "seg": "c"},
      {"age": 13.94, "d18O": -7.80, "series": "SCH03", "seg": "c"}, {"age": 14.00, "d18O": -7.40, "series": "SCH03", "seg": "c"},
      {"age": 14.06, "d18O": -7.25, "series": "SCH03", "seg": "c"}, {"age": 14.12, "d18O": -7.45, "series": "SCH03", "seg": "c"},
      {"age": 14.18, "d18O": -7.30, "series": "SCH03", "seg": "c"}, {"age": 14.24, "d18O": -7.15, "series": "SCH03", "seg": "c"},
      {"age": 14.30, "d18O": -7.35, "series": "SCH03", "seg": "c"}, {"age": 14.36, "d18O": -7.20, "series": "SCH03", "seg": "c"},
      {"age": 0.0, "d18O": -9.28, "series": "BA04", "seg": "a"}, {"age": 0.2, "d18O": -9.32, "series": "BA04", "seg": "a"},
      {"age": 0.4, "d18O": -9.30, "series": "BA04", "seg": "a"}, {"age": 0.6, "d18O": -9.36, "series": "BA04", "seg": "a"},
      {"age": 0.8, "d18O": -9.33, "series": "BA04", "seg": "a"}, {"age": 1.0, "d18O": -9.30, "series": "BA04", "seg": "a"},
      {"age": 1.2, "d18O": -9.35, "series": "BA04", "seg": "a"}, {"age": 1.4, "d18O": -9.32, "series": "BA04", "seg": "a"},
      {"age": 1.6, "d18O": -9.30, "series": "BA04", "seg": "a"}, {"age": 1.8, "d18O": -9.34, "series": "BA04", "seg": "a"},
      {"age": 2.0, "d18O": -9.40, "series": "BA04", "seg": "a"}, {"age": 2.1, "d18O": -9.47, "series": "BA04", "seg": "a"},
      {"age": 2.2, "d18O": -9.44, "series": "BA04", "seg": "a"}, {"age": 2.4, "d18O": -9.38, "series": "BA04", "seg": "a"},
      {"age": 2.6, "d18O": -9.36, "series": "BA04", "seg": "a"}, {"age": 2.8, "d18O": -9.34, "series": "BA04", "seg": "a"},
      {"age": 3.0, "d18O": -9.33, "series": "BA04", "seg": "a"}, {"age": 3.2, "d18O": -9.31, "series": "BA04", "seg": "a"},
      {"age": 3.4, "d18O": -9.30, "series": "BA04", "seg": "a"}, {"age": 3.6, "d18O": -9.32, "series": "BA04", "seg": "a"},
      {"age": 3.8, "d18O": -9.30, "series": "BA04", "seg": "a"}, {"age": 4.0, "d18O": -9.28, "series": "BA04", "seg": "a"},
      {"age": 4.1, "d18O": -9.22, "series": "BA04", "seg": "a"}, {"age": 4.2, "d18O": -9.14, "series": "BA04", "seg": "a"},
      {"age": 4.35, "d18O": -9.05, "series": "BA04", "seg": "a"},
      {"age": 14.98, "d18O": -6.73, "series": "BA04", "seg": "b"}, {"age": 15.05, "d18O": -6.55, "series": "BA04", "seg": "b"},
      {"age": 15.14, "d18O": -6.39, "series": "BA04", "seg": "b"}, {"age": 15.25, "d18O": -6.30, "series": "BA04", "seg": "b"},
      {"age": 15.35, "d18O": -6.35, "series": "BA04", "seg": "b"}, {"age": 15.45, "d18O": -6.20, "series": "BA04", "seg": "b"},
      {"age": 15.57, "d18O": -6.15, "series": "BA04", "seg": "b"}, {"age": 15.66, "d18O": -6.22, "series": "BA04", "seg": "b"},
      {"age": 15.78, "d18O": -6.10, "series": "BA04", "seg": "b"}, {"age": 15.86, "d18O": -6.35, "series": "BA04", "seg": "b"},
      {"age": 15.93, "d18O": -6.50, "series": "BA04", "seg": "b"}, {"age": 16.05, "d18O": -6.52, "series": "BA04", "seg": "b"},
      {"age": 16.2, "d18O": -6.57, "series": "BA04", "seg": "b"}, {"age": 16.4, "d18O": -6.62, "series": "BA04", "seg": "b"},
      {"age": 16.6, "d18O": -6.60, "series": "BA04", "seg": "b"}, {"age": 16.8, "d18O": -6.68, "series": "BA04", "seg": "b"},
      {"age": 16.99, "d18O": -6.73, "series": "BA04", "seg": "b"}, {"age": 17.15, "d18O": -6.80, "series": "BA04", "seg": "b"},
      {"age": 17.3, "d18O": -6.86, "series": "BA04", "seg": "b"}, {"age": 17.5, "d18O": -6.85, "series": "BA04", "seg": "b"},
      {"age": 17.72, "d18O": -7.01, "series": "BA04", "seg": "b"}, {"age": 17.85, "d18O": -7.10, "series": "BA04", "seg": "b"},
      {"age": 17.99, "d18O": -7.48, "series": "BA04", "seg": "b"}, {"age": 18.1, "d18O": -7.20, "series": "BA04", "seg": "b"},
      {"age": 18.35, "d18O": -7.07, "series": "BA04", "seg": "b"}, {"age": 18.6, "d18O": -7.12, "series": "BA04", "seg": "b"},
      {"age": 18.8, "d18O": -7.05, "series": "BA04", "seg": "b"}, {"age": 19.0, "d18O": -7.10, "series": "BA04", "seg": "b"},
      {"age": 19.2, "d18O": -7.12, "series": "BA04", "seg": "b"}, {"age": 19.35, "d18O": -7.45, "series": "BA04", "seg": "b"}
    ],
    "sanbao": [
      {"age": 0.00, "d18O": -9.70}, {"age": 0.08, "d18O": -9.55}, {"age": 0.16, "d18O": -9.40}, {"age": 0.24, "d18O": -9.50},
      {"age": 0.32, "d18O": -9.25}, {"age": 0.40, "d18O": -9.10}, {"age": 0.48, "d18O": -8.95}, {"age": 0.56, "d18O": -9.20},
      {"age": 0.64, "d18O": -8.80}, {"age": 0.72, "d18O": -9.05}, {"age": 0.80, "d18O": -8.70}, {"age": 0.88, "d18O": -9.15},
      {"age": 0.96, "d18O": -8.90}, {"age": 1.04, "d18O": -9.20}, {"age": 1.12, "d18O": -8.95}, {"age": 1.20, "d18O": -9.10},
      {"age": 1.28, "d18O": -8.85}, {"age": 1.36, "d18O": -9.05}, {"age": 1.44, "d18O": -9.25}, {"age": 1.52, "d18O": -8.95},
      {"age": 1.60, "d18O": -9.30}, {"age": 1.68, "d18O": -9.05}, {"age": 1.76, "d18O": -9.20}, {"age": 1.84, "d18O": -8.90},
      {"age": 1.92, "d18O": -9.10}, {"age": 2.00, "d18O": -8.75}, {"age": 2.08, "d18O": -8.60}, {"age": 2.16, "d18O": -9.05},
      {"age": 2.24, "d18O": -8.80}, {"age": 2.32, "d18O": -9.15}, {"age": 2.40, "d18O": -8.70}, {"age": 2.48, "d18O": -8.30},
      {"age": 2.56, "d18O": -9.35}, {"age": 2.64, "d18O": -8.65}, {"age": 2.72, "d18O": -8.40}, {"age": 2.80, "d18O": -8.90},
      {"age": 2.88, "d18O": -8.60}, {"age": 2.96, "d18O": -9.00}, {"age": 3.04, "d18O": -8.75}, {"age": 3.12, "d18O": -8.95},
      {"age": 3.20, "d18O": -8.60}, {"age": 3.28, "d18O": -8.75}, {"age": 3.36, "d18O": -8.85}, {"age": 3.44, "d18O": -8.95},
      {"age": 3.52, "d18O": -9.40}, {"age": 3.60, "d18O": -10.15}, {"age": 3.68, "d18O": -9.55}, {"age": 3.76, "d18O": -9.80},
      {"age": 3.84, "d18O": -9.40}, {"age": 3.92, "d18O": -9.75}, {"age": 4.00, "d18O": -9.50}, {"age": 4.08, "d18O": -9.80},
      {"age": 4.16, "d18O": -9.45}, {"age": 4.24, "d18O": -9.70}, {"age": 4.32, "d18O": -9.30}, {"age": 4.40, "d18O": -9.75},
      {"age": 4.48, "d18O": -9.50}, {"age": 4.56, "d18O": -10.00}, {"age": 4.64, "d18O": -9.60}, {"age": 4.72, "d18O": -9.85},
      {"age": 4.80, "d18O": -9.55}, {"age": 4.88, "d18O": -9.90}, {"age": 4.96, "d18O": -9.45}, {"age": 5.04, "d18O": -9.60},
      {"age": 5.12, "d18O": -9.35}, {"age": 5.20, "d18O": -9.80}, {"age": 5.28, "d18O": -9.65}, {"age": 5.36, "d18O": -10.10},
      {"age": 5.44, "d18O": -9.85}, {"age": 5.52, "d18O": -10.30}, {"age": 5.60, "d18O": -10.45}, {"age": 5.68, "d18O": -10.20},
      {"age": 5.76, "d18O": -10.60}, {"age": 5.84, "d18O": -10.85}, {"age": 5.92, "d18O": -10.40}, {"age": 6.00, "d18O": -10.65},
      {"age": 6.08, "d18O": -10.30}, {"age": 6.16, "d18O": -10.70}, {"age": 6.24, "d18O": -10.45}, {"age": 6.32, "d18O": -10.60},
      {"age": 6.40, "d18O": -10.25}, {"age": 6.48, "d18O": -10.50}, {"age": 6.56, "d18O": -10.15}, {"age": 6.64, "d18O": -10.45},
      {"age": 6.72, "d18O": -9.95}, {"age": 6.80, "d18O": -10.40}, {"age": 6.88, "d18O": -10.70}, {"age": 6.96, "d18O": -10.45},
      {"age": 7.04, "d18O": -10.80}, {"age": 7.12, "d18O": -10.55}, {"age": 7.20, "d18O": -10.95}, {"age": 7.28, "d18O": -10.70},
      {"age": 7.36, "d18O": -10.90}, {"age": 7.44, "d18O": -10.60}, {"age": 7.52, "d18O": -10.85}, {"age": 7.60, "d18O": -10.55},
      {"age": 7.68, "d18O": -10.75}, {"age": 7.76, "d18O": -10.50}, {"age": 7.84, "d18O": -10.80}, {"age": 7.92, "d18O": -10.45},
      {"age": 8.00, "d18O": -10.70}, {"age": 8.08, "d18O": -10.90}, {"age": 8.16, "d18O": -10.60}, {"age": 8.24, "d18O": -10.95},
      {"age": 8.32, "d18O": -10.65}, {"age": 8.40, "d18O": -10.85}, {"age": 8.48, "d18O": -10.50}, {"age": 8.56, "d18O": -10.75},
      {"age": 8.64, "d18O": -10.90}, {"age": 8.72, "d18O": -10.60}, {"age": 8.80, "d18O": -11.00}, {"age": 8.88, "d18O": -10.70},
      {"age": 8.96, "d18O": -10.90}, {"age": 9.04, "d18O": -10.55}, {"age": 9.12, "d18O": -10.20}, {"age": 9.20, "d18O": -9.50},
      {"age": 9.28, "d18O": -10.10}, {"age": 9.36, "d18O": -10.55}, {"age": 9.44, "d18O": -10.30}, {"age": 9.52, "d18O": -10.60},
      {"age": 9.60, "d18O": -10.15}, {"age": 9.68, "d18O": -10.45}, {"age": 9.76, "d18O": -9.85}, {"age": 9.84, "d18O": -10.35},
      {"age": 9.92, "d18O": -10.00}, {"age": 10.00, "d18O": -10.50}, {"age": 10.08, "d18O": -10.15}, {"age": 10.16, "d18O": -10.55},
      {"age": 10.24, "d18O": -10.25}, {"age": 10.32, "d18O": -10.65}, {"age": 10.40, "d18O": -10.20}, {"age": 10.48, "d18O": -10.45},
      {"age": 10.56, "d18O": -10.10}, {"age": 10.64, "d18O": -10.40}, {"age": 10.72, "d18O": -9.95}, {"age": 10.80, "d18O": -9.55},
      {"age": 10.88, "d18O": -10.05}, {"age": 10.96, "d18O": -9.70}, {"age": 11.04, "d18O": -9.95}, {"age": 11.12, "d18O": -9.50},
      {"age": 11.20, "d18O": -9.25}, {"age": 11.28, "d18O": -9.50}, {"age": 11.36, "d18O": -8.95}, {"age": 11.44, "d18O": -8.40},
      {"age": 11.52, "d18O": -8.70}, {"age": 11.60, "d18O": -8.10}, {"age": 11.68, "d18O": -8.45}, {"age": 11.76, "d18O": -7.95},
      {"age": 11.84, "d18O": -8.35}, {"age": 11.92, "d18O": -8.05}, {"age": 12.00, "d18O": -8.40}, {"age": 12.08, "d18O": -7.90},
      {"age": 12.16, "d18O": -8.20}, {"age": 12.24, "d18O": -7.62}, {"age": 12.32, "d18O": -7.95}, {"age": 12.40, "d18O": -8.15},
      {"age": 12.48, "d18O": -8.30}, {"age": 12.56, "d18O": -8.75}, {"age": 12.64, "d18O": -8.97}, {"age": 12.72, "d18O": -8.60},
      {"age": 12.80, "d18O": -9.10}, {"age": 12.88, "d18O": -9.40}, {"age": 12.94, "d18O": -9.64}, {"age": 13.00, "d18O": -9.35},
      {"age": 13.08, "d18O": -9.90}, {"age": 13.15, "d18O": -10.18}, {"age": 13.22, "d18O": -9.70}, {"age": 13.30, "d18O": -10.05},
      {"age": 13.38, "d18O": -9.60}, {"age": 13.44, "d18O": -10.40}, {"age": 13.50, "d18O": -10.58}, {"age": 13.56, "d18O": -11.19},
      {"age": 13.62, "d18O": -10.50}, {"age": 13.68, "d18O": -10.85}, {"age": 13.74, "d18O": -10.10}, {"age": 13.80, "d18O": -10.65},
      {"age": 13.86, "d18O": -10.20}, {"age": 13.92, "d18O": -10.55}, {"age": 13.98, "d18O": -9.90}, {"age": 14.04, "d18O": -10.35},
      {"age": 14.10, "d18O": -9.80}, {"age": 14.16, "d18O": -10.15}, {"age": 14.22, "d18O": -9.60}, {"age": 14.28, "d18O": -9.25},
      {"age": 14.34, "d18O": -9.65}, {"age": 14.40, "d18O": -9.20}, {"age": 14.46, "d18O": -8.95}, {"age": 14.52, "d18O": -9.30},
      {"age": 14.58, "d18O": -8.56}, {"age": 14.64, "d18O": -8.20}, {"age": 14.70, "d18O": -7.60}, {"age": 14.76, "d18O": -7.08},
      {"age": 14.82, "d18O": -7.45}, {"age": 14.88, "d18O": -6.54}, {"age": 14.94, "d18O": -7.20}, {"age": 15.00, "d18O": -7.00},
      {"age": 15.06, "d18O": -7.60}, {"age": 15.12, "d18O": -7.10}, {"age": 15.18, "d18O": -7.35}, {"age": 15.24, "d18O": -6.85},
      {"age": 15.30, "d18O": -7.40}, {"age": 15.36, "d18O": -6.90}, {"age": 15.42, "d18O": -7.25}, {"age": 15.48, "d18O": -7.50},
      {"age": 15.54, "d18O": -6.60}, {"age": 15.58, "d18O": -6.00}, {"age": 15.64, "d18O": -6.90}, {"age": 15.70, "d18O": -7.20},
      {"age": 15.76, "d18O": -6.60}, {"age": 15.82, "d18O": -6.95}, {"age": 15.88, "d18O": -6.40}, {"age": 15.94, "d18O": -6.20},
      {"age": 16.00, "d18O": -6.70}, {"age": 16.06, "d18O": -6.35}, {"age": 16.12, "d18O": -7.20}, {"age": 16.18, "d18O": -7.55},
      {"age": 16.24, "d18O": -6.90}, {"age": 16.30, "d18O": -7.40}, {"age": 16.36, "d18O": -6.80}, {"age": 16.42, "d18O": -7.60},
      {"age": 16.48, "d18O": -7.95}, {"age": 16.52, "d18O": -8.29}, {"age": 16.58, "d18O": -7.70}, {"age": 16.64, "d18O": -7.25},
      {"age": 16.70, "d18O": -7.85}, {"age": 16.76, "d18O": -8.40}, {"age": 16.82, "d18O": -7.60}, {"age": 16.88, "d18O": -8.10},
      {"age": 16.94, "d18O": -7.45}, {"age": 17.00, "d18O": -7.15}, {"age": 17.06, "d18O": -7.80}, {"age": 17.12, "d18O": -8.20},
      {"age": 17.18, "d18O": -7.70}, {"age": 17.24, "d18O": -8.35}, {"age": 17.30, "d18O": -7.90}, {"age": 17.36, "d18O": -8.15},
      {"age": 17.42, "d18O": -7.60}, {"age": 17.50, "d18O": -7.90}, {"age": 17.56, "d18O": -7.45}, {"age": 17.62, "d18O": -7.35},
      {"age": 17.68, "d18O": -7.80}, {"age": 17.74, "d18O": -8.10}, {"age": 17.80, "d18O": -8.45}, {"age": 17.86, "d18O": -8.25},
      {"age": 17.92, "d18O": -8.70}, {"age": 17.98, "d18O": -8.95}, {"age": 18.04, "d18O": -9.10}, {"age": 18.10, "d18O": -8.60},
      {"age": 18.16, "d18O": -8.20}, {"age": 18.22, "d18O": -8.50}, {"age": 18.28, "d18O": -8.00}, {"age": 18.35, "d18O": -7.80},
      {"age": 18.42, "d18O": -8.35}, {"age": 18.48, "d18O": -8.80}, {"age": 18.54, "d18O": -9.30}, {"age": 18.58, "d18O": -9.80},
      {"age": 18.61, "d18O": -10.04}, {"age": 18.66, "d18O": -9.20}, {"age": 18.72, "d18O": -8.70}, {"age": 18.78, "d18O": -8.30},
      {"age": 18.84, "d18O": -8.65}, {"age": 18.90, "d18O": -8.10}, {"age": 18.96, "d18O": -8.45}, {"age": 19.02, "d18O": -8.05},
      {"age": 19.08, "d18O": -7.80}, {"age": 19.14, "d18O": -8.20}, {"age": 19.20, "d18O": -7.95}, {"age": 19.26, "d18O": -8.35},
      {"age": 19.32, "d18O": -7.90}, {"age": 19.38, "d18O": -8.15}, {"age": 19.44, "d18O": -7.75}, {"age": 19.50, "d18O": -7.85},
      {"age": 19.56, "d18O": -8.10}, {"age": 19.62, "d18O": -7.70}, {"age": 19.68, "d18O": -8.05}, {"age": 19.74, "d18O": -7.90},
      {"age": 19.80, "d18O": -8.20}, {"age": 19.86, "d18O": -7.80}, {"age": 19.92, "d18O": -8.00}, {"age": 20.00, "d18O": -7.95}
    ],
    "precip_wedge": [
      {"p": 1, "lo": 23.31, "hi": 23.31},
      {"p": 0, "lo": 22.89, "hi": 23.69}
    ]
  },
  "resolve": {
    "scale": {"y": "independent", "color": "independent"},
    "axis": {"x": "independent", "y": "independent"}
  },
  "layer": [
    {
      "data": {"name": "stages"},
      "mark": {"type": "rect"},
      "encoding": {
        "x": {
          "field": "start", "type": "quantitative",
          "scale": {"domain": [0, 20], "nice": false, "zero": false},
          "axis": {
            "orient": "top", "values": [0,1,2,3,4,5,6,7,8,9,10,11,12,13,14,15,16,17,18,19,20],
            "labelExpr": "datum.value % 5 === 0 ? datum.label : ''",
            "labelFlush": false, "labelAngle": 0, "labelFontSize": 17, "labelPadding": 4,
            "title": "Age (Cal. ka BP)", "titleFontSize": 20, "titlePadding": 46
          }
        },
        "x2": {"field": "end"},
        "color": {"field": "stage", "type": "nominal", "scale": {"domain": ["III", "II", "I"], "range": ["#fbeced", "#cce8d8", "#c7e7f8"]}, "legend": null}
      }
    },
    {
      "resolve": {"axis": {"x": "independent", "y": "independent"}},
      "layer": [
        {
          "data": {"name": "mar"},
          "mark": {"type": "line", "color": "#707070", "strokeWidth": 1.6},
          "encoding": {
            "x": {"field": "age", "type": "quantitative", "scale": {"domain": [0, 20], "nice": false, "zero": false}, "axis": null},
            "y": {
              "field": "mar", "type": "quantitative",
              "scale": {"domain": [10, 50], "range": [119.7, 0.3], "nice": false, "zero": false},
              "axis": {
                "orient": "left", "values": [10, 20, 30, 40, 50],
                "labelAngle": 270, "labelAlign": "center", "labelBaseline": "bottom", "labelPadding": 4,
                "title": ["MAR", "(g/cm²/ka)"], "titleColor": "#8c8c8c",
                "titleAngle": 270, "titleAlign": "center", "titleBaseline": "bottom", "titlePadding": 12
              }
            }
          }
        },
        {
          "data": {"values": [{}]},
          "mark": {"type": "text", "align": "left", "baseline": "middle", "fontSize": 17, "color": "#3a3a3a"},
          "encoding": {
            "x": {"datum": 0.13, "type": "quantitative", "axis": null},
            "y": {"datum": 45.6, "type": "quantitative", "axis": null},
            "text": {"value": "(A)"}
          }
        },
        {
          "data": {"name": "stages"},
          "mark": {"type": "text", "align": "center", "baseline": "middle", "fontSize": 21},
          "encoding": {
            "x": {"field": "labelAge", "type": "quantitative", "axis": null},
            "y": {"datum": 62.8, "type": "quantitative", "axis": null},
            "text": {"field": "name"},
            "color": {"field": "stage", "type": "nominal", "scale": {"domain": ["III", "II", "I"], "range": ["#e9a3aa", "#36a363", "#35abe0"]}, "legend": null}
          }
        }
      ]
    },
    {
      "resolve": {"axis": {"x": "independent", "y": "independent"}},
      "layer": [
        {
          "data": {"name": "sealevel_curve"},
          "mark": {"type": "line", "color": "#1b9bd9", "strokeWidth": 5, "strokeDash": [24, 15], "strokeCap": "butt"},
          "encoding": {
            "x": {"field": "age", "type": "quantitative", "scale": {"domain": [0, 20], "nice": false, "zero": false}, "axis": null},
            "y": {
              "field": "sl", "type": "quantitative",
              "scale": {"domain": [-140, 20], "range": [149, 0.3], "nice": false, "zero": false},
              "axis": {
                "orient": "right", "values": [-140, -120, -100, -80, -60, -40, -20, 0, 20],
                "labelExpr": "datum.value % 40 === 0 ? replace(datum.label, '−', '-') : ''",
                "labelAngle": 270, "labelAlign": "center", "labelBaseline": "top", "labelPadding": 9,
                "title": "Sea level (m)", "titleColor": "#2aa6da",
                "titleAngle": 270, "titleAlign": "center", "titleBaseline": "top", "titlePadding": 8
              }
            }
          }
        },
        {
          "data": {"name": "sealevel_points"},
          "mark": {"type": "point", "filled": true, "size": 66, "stroke": "#222222", "strokeWidth": 1, "opacity": 1},
          "encoding": {
            "x": {"field": "age", "type": "quantitative", "scale": {"domain": [0, 20], "nice": false, "zero": false}, "axis": null},
            "y": {"field": "sl", "type": "quantitative", "scale": {"domain": [-140, 20], "range": [149, 0.3], "nice": false, "zero": false}, "axis": null},
            "color": {"field": "src", "type": "nominal", "scale": {"domain": ["w", "c", "b", "n"], "range": ["#e3ecf5", "#84ece1", "#8a9bea", "#0f2552"]}, "legend": null}
          }
        }
      ]
    },
    {
      "resolve": {"axis": {"x": "independent", "y": "independent"}},
      "layer": [
        {
          "data": {"name": "shelf"},
          "mark": {"type": "line", "color": "#e596ea", "strokeWidth": 1.3},
          "encoding": {
            "x": {"field": "age", "type": "quantitative", "scale": {"domain": [0, 20], "nice": false, "zero": false}, "axis": null},
            "y": {
              "field": "area", "type": "quantitative",
              "scale": {"domain": [0, 2.95], "range": [296, 120.8], "nice": false, "zero": false},
              "axis": {
                "orient": "left", "values": [0, 0.5, 1, 1.5, 2, 2.5], "format": ".1f",
                "labelAngle": 270, "labelAlign": "center", "labelBaseline": "bottom", "labelPadding": 4,
                "title": ["Area of exposed shelf", "(10⁶ km²)"],
                "titleAngle": 270, "titleAlign": "center", "titleBaseline": "bottom", "titlePadding": 12
              }
            }
          }
        },
        {
          "data": {"name": "shelf"},
          "mark": {"type": "point", "filled": true, "size": 26, "fill": "#b866c8", "stroke": "#333333", "strokeWidth": 0.9, "opacity": 1},
          "encoding": {
            "x": {"field": "age", "type": "quantitative", "scale": {"domain": [0, 20], "nice": false, "zero": false}, "axis": null},
            "y": {"field": "area", "type": "quantitative", "scale": {"domain": [0, 2.95], "range": [296, 120.8], "nice": false, "zero": false}, "axis": null}
          }
        },
        {
          "data": {"values": [{}]},
          "mark": {"type": "text", "align": "left", "baseline": "middle", "fontSize": 17, "color": "#3a3a3a"},
          "encoding": {
            "x": {"datum": 0.13, "type": "quantitative", "axis": null},
            "y": {"datum": 2.22, "type": "quantitative", "axis": null},
            "text": {"value": "(B)"}
          }
        }
      ]
    },
    {
      "resolve": {"axis": {"x": "independent", "y": "independent"}},
      "layer": [
        {
          "data": {"name": "shelf"},
          "mark": {"type": "line", "color": "#f0a474", "strokeWidth": 1.3},
          "encoding": {
            "x": {"field": "age", "type": "quantitative", "scale": {"domain": [0, 20], "nice": false, "zero": false}, "axis": null},
            "y": {
              "field": "weather", "type": "quantitative",
              "scale": {"domain": [0, 4], "range": [407.7, 259.3], "nice": false, "zero": false},
              "axis": {
                "orient": "right", "values": [0, 1, 2, 3, 4],
                "labelAngle": 270, "labelAlign": "center", "labelBaseline": "top", "labelPadding": 9,
                "title": ["Area for weathering", "(10⁶ km²)"],
                "titleAngle": 270, "titleAlign": "center", "titleBaseline": "top", "titlePadding": -11
              }
            }
          }
        },
        {
          "data": {"name": "shelf"},
          "mark": {"type": "point", "filled": true, "size": 26, "fill": "#d5703c", "stroke": "#333333", "strokeWidth": 0.9, "opacity": 1},
          "encoding": {
            "x": {"field": "age", "type": "quantitative", "scale": {"domain": [0, 20], "nice": false, "zero": false}, "axis": null},
            "y": {"field": "weather", "type": "quantitative", "scale": {"domain": [0, 4], "range": [407.7, 259.3], "nice": false, "zero": false}, "axis": null}
          }
        },
        {
          "data": {"values": [{}]},
          "mark": {"type": "text", "align": "left", "baseline": "middle", "fontSize": 17, "color": "#3a3a3a"},
          "encoding": {
            "x": {"datum": 0.13, "type": "quantitative", "axis": null},
            "y": {"datum": 2.38, "type": "quantitative", "axis": null},
            "text": {"value": "(C)"}
          }
        }
      ]
    },
    {
      "resolve": {"axis": {"x": "independent", "y": "independent"}},
      "layer": [
        {
          "data": {"name": "co2"},
          "mark": {"type": "line", "color": "#6fa2e8", "strokeWidth": 1.3},
          "encoding": {
            "x": {"field": "age", "type": "quantitative", "scale": {"domain": [0, 20], "nice": false, "zero": false}, "axis": null},
            "y": {
              "field": "change", "type": "quantitative",
              "scale": {"domain": [-100, 10], "range": [548, 399.8], "nice": false, "zero": false},
              "axis": {
                "orient": "left", "values": [-100, -80, -60, -40, -20, 0],
                "labelExpr": "datum.value % 40 === 0 ? replace(datum.label, '−', '-') : ''",
                "labelColor": "#4a8cd8",
                "labelAngle": 270, "labelAlign": "center", "labelBaseline": "bottom", "labelPadding": 4,
                "title": ["CO₂ consumption changes", "relative to holocene", "(10⁹ mol/a)"], "titleColor": "#4a8cd8",
                "titleAngle": 270, "titleAlign": "center", "titleBaseline": "bottom", "titlePadding": 12, "titleY": 450
              }
            }
          }
        },
        {
          "data": {"name": "co2"},
          "mark": {"type": "point", "filled": true, "size": 26, "fill": "#3f62b8", "stroke": "#333333", "strokeWidth": 0.9, "opacity": 1},
          "encoding": {
            "x": {"field": "age", "type": "quantitative", "scale": {"domain": [0, 20], "nice": false, "zero": false}, "axis": null},
            "y": {"field": "change", "type": "quantitative", "scale": {"domain": [-100, 10], "range": [548, 399.8], "nice": false, "zero": false}, "axis": null}
          }
        },
        {
          "data": {"values": [{}]},
          "mark": {"type": "text", "align": "left", "baseline": "middle", "fontSize": 17, "color": "#3a3a3a"},
          "encoding": {
            "x": {"datum": 0.1, "type": "quantitative", "axis": null},
            "y": {"datum": -13.1, "type": "quantitative", "axis": null},
            "text": {"value": "(D)"}
          }
        }
      ]
    },
    {
      "resolve": {"axis": {"x": "independent", "y": "independent"}},
      "layer": [
        {
          "data": {"name": "co2"},
          "mark": {"type": "line", "color": "#44c044", "strokeWidth": 1.3},
          "encoding": {
            "x": {"field": "age", "type": "quantitative", "scale": {"domain": [0, 20], "nice": false, "zero": false}, "axis": null},
            "y": {
              "field": "absolute", "type": "quantitative",
              "scale": {"domain": [200, 400], "range": [674.3, 526.7], "nice": false, "zero": false},
              "axis": {
                "orient": "right", "values": [200, 250, 300, 350, 400], "labelColor": "#3cb43c",
                "labelAngle": 270, "labelAlign": "center", "labelBaseline": "top", "labelPadding": 9,
                "title": ["Absolute CO₂ consumption", "(10⁹ mol/a)"], "titleColor": "#3cb43c",
                "titleAngle": 270, "titleAlign": "center", "titleBaseline": "top", "titlePadding": -11
              }
            }
          }
        },
        {
          "data": {"name": "co2"},
          "mark": {"type": "point", "filled": true, "size": 26, "fill": "#5ec85e", "stroke": "#333333", "strokeWidth": 0.9, "opacity": 1},
          "encoding": {
            "x": {"field": "age", "type": "quantitative", "scale": {"domain": [0, 20], "nice": false, "zero": false}, "axis": null},
            "y": {"field": "absolute", "type": "quantitative", "scale": {"domain": [200, 400], "range": [674.3, 526.7], "nice": false, "zero": false}, "axis": null}
          }
        },
        {
          "data": {"name": "present_day"},
          "transform": [{"filter": "datum.panel === 'E'"}],
          "mark": {"type": "rule", "color": "#43c043", "strokeWidth": 2.5, "strokeDash": [18, 13]},
          "encoding": {
            "x": {"field": "start", "type": "quantitative", "axis": null},
            "x2": {"field": "end"},
            "y": {"field": "value", "type": "quantitative", "axis": null}
          }
        },
        {
          "data": {"values": [{}]},
          "mark": {"type": "text", "align": "left", "baseline": "middle", "fontSize": 17, "color": "#3a3a3a"},
          "encoding": {
            "x": {"datum": 0.18, "type": "quantitative", "axis": null},
            "y": {"datum": 346, "type": "quantitative", "axis": null},
            "text": {"value": "(E)"}
          }
        },
        {
          "data": {"values": [{}]},
          "mark": {"type": "text", "align": "center", "baseline": "middle", "fontSize": 16, "color": "#3cb43c"},
          "encoding": {
            "x": {"datum": 3.59, "type": "quantitative", "axis": null},
            "y": {"datum": 317, "type": "quantitative", "axis": null},
            "text": {"value": "336X10⁹ mol/a"}
          }
        },
        {
          "data": {"values": [{}]},
          "mark": {"type": "text", "align": "center", "baseline": "middle", "fontSize": 11, "color": "#3cb43c"},
          "encoding": {
            "x": {"datum": 3.57, "type": "quantitative", "axis": null},
            "y": {"datum": 296, "type": "quantitative", "axis": null},
            "text": {"value": "(present-day level represent Holocene)"}
          }
        }
      ]
    },
    {
      "resolve": {"axis": {"x": "independent", "y": "independent"}},
      "layer": [
        {
          "data": {"name": "co2"},
          "mark": {"type": "line", "color": "#d64a4a", "strokeWidth": 1.3},
          "encoding": {
            "x": {"field": "age", "type": "quantitative", "scale": {"domain": [0, 20], "nice": false, "zero": false}, "axis": null},
            "y": {
              "field": "rate", "type": "quantitative",
              "scale": {"domain": [0, 200], "range": [782.7, 634.3], "nice": false, "zero": false},
              "axis": {
                "orient": "left", "values": [0, 50, 100, 150, 200],
                "labelAngle": 270, "labelAlign": "center", "labelBaseline": "bottom", "labelPadding": 4,
                "title": ["CO₂ consumption rate", "(10³ mol/km²/a)"], "titleColor": "#e04848",
                "titleAngle": 270, "titleAlign": "center", "titleBaseline": "bottom", "titlePadding": 12
              }
            }
          }
        },
        {
          "data": {"name": "co2"},
          "mark": {"type": "point", "filled": true, "size": 26, "fill": "#d64a4a", "stroke": "#333333", "strokeWidth": 0.9, "opacity": 1},
          "encoding": {
            "x": {"field": "age", "type": "quantitative", "scale": {"domain": [0, 20], "nice": false, "zero": false}, "axis": null},
            "y": {"field": "rate", "type": "quantitative", "scale": {"domain": [0, 200], "range": [782.7, 634.3], "nice": false, "zero": false}, "axis": null}
          }
        },
        {
          "data": {"name": "present_day"},
          "transform": [{"filter": "datum.panel === 'F'"}],
          "mark": {"type": "rule", "color": "#e05252", "strokeWidth": 2.5, "strokeDash": [18, 13]},
          "encoding": {
            "x": {"field": "start", "type": "quantitative", "axis": null},
            "x2": {"field": "end"},
            "y": {"field": "value", "type": "quantitative", "axis": null}
          }
        },
        {
          "data": {"values": [{}]},
          "mark": {"type": "text", "align": "left", "baseline": "middle", "fontSize": 17, "color": "#3a3a3a"},
          "encoding": {
            "x": {"datum": 0.15, "type": "quantitative", "axis": null},
            "y": {"datum": 207, "type": "quantitative", "axis": null},
            "text": {"value": "(F)"}
          }
        },
        {
          "data": {"values": [{}]},
          "mark": {"type": "text", "align": "center", "baseline": "middle", "fontSize": 16, "color": "#e05252"},
          "encoding": {
            "x": {"datum": 3.55, "type": "quantitative", "axis": null},
            "y": {"datum": 173, "type": "quantitative", "axis": null},
            "text": {"value": "191X10³ mol/km²/a"}
          }
        },
        {
          "data": {"values": [{}]},
          "mark": {"type": "text", "align": "center", "baseline": "middle", "fontSize": 11, "color": "#e05252"},
          "encoding": {
            "x": {"datum": 3.57, "type": "quantitative", "axis": null},
            "y": {"datum": 152, "type": "quantitative", "axis": null},
            "text": {"value": "(present-day level represent Holocene)"}
          }
        }
      ]
    },
    {
      "resolve": {"axis": {"x": "independent", "y": "independent"}},
      "layer": [
        {
          "data": {"name": "shelf"},
          "mark": {"type": "line", "color": "#86a6e6", "strokeWidth": 1.3},
          "encoding": {
            "x": {"field": "age", "type": "quantitative", "scale": {"domain": [0, 20], "nice": false, "zero": false}, "axis": null},
            "y": {
              "field": "shelfco2", "type": "quantitative",
              "scale": {"domain": [0, 300], "range": [878.5, 729.3], "nice": false, "zero": false},
              "axis": {
                "orient": "right", "values": [0, 50, 100, 150, 200, 250, 300],
                "labelExpr": "datum.value % 100 === 0 ? datum.label : ''",
                "labelAngle": 270, "labelAlign": "center", "labelBaseline": "top", "labelPadding": 9,
                "title": ["CO₂ consumption", "on the exposed shelf", "(10⁹ mol/a)"],
                "titleAngle": 270, "titleAlign": "center", "titleBaseline": "top", "titlePadding": -30
              }
            }
          }
        },
        {
          "data": {"name": "shelf"},
          "mark": {"type": "point", "filled": true, "size": 26, "fill": "#4664b0", "stroke": "#333333", "strokeWidth": 0.9, "opacity": 1},
          "encoding": {
            "x": {"field": "age", "type": "quantitative", "scale": {"domain": [0, 20], "nice": false, "zero": false}, "axis": null},
            "y": {"field": "shelfco2", "type": "quantitative", "scale": {"domain": [0, 300], "range": [878.5, 729.3], "nice": false, "zero": false}, "axis": null}
          }
        },
        {
          "data": {"values": [{}]},
          "mark": {"type": "text", "align": "left", "baseline": "middle", "fontSize": 17, "color": "#3a3a3a"},
          "encoding": {
            "x": {"datum": 0.12, "type": "quantitative", "axis": null},
            "y": {"datum": 129.8, "type": "quantitative", "axis": null},
            "text": {"value": "(G)"}
          }
        }
      ]
    },
    {
      "resolve": {"axis": {"x": "independent", "y": "independent"}},
      "layer": [
        {
          "data": {"name": "sumatra"},
          "mark": {"type": "line", "color": "#6cef6c", "strokeWidth": 1.1},
          "encoding": {
            "x": {"field": "age", "type": "quantitative", "scale": {"domain": [0, 20], "nice": false, "zero": false}, "axis": null},
            "y": {
              "field": "d18O", "type": "quantitative",
              "scale": {"domain": [-9, -4], "range": [1041.7, 894], "nice": false, "zero": false},
              "axis": {
                "orient": "right", "values": [-9, -8, -7, -6, -5, -4],
                "labelExpr": "replace(datum.label, '−', '-')",
                "labelAngle": 270, "labelAlign": "center", "labelBaseline": "top", "labelPadding": 9,
                "title": ["Sumatra Cave", "δ¹⁸O (‰, VPDB)"],
                "titleAngle": 270, "titleAlign": "center", "titleBaseline": "top", "titlePadding": -11
              }
            },
            "detail": {"field": "seg", "type": "nominal"}
          }
        },
        {
          "data": {"name": "stage_means"},
          "transform": [{"filter": "datum.record === 'H'"}],
          "mark": {"type": "rule", "strokeWidth": 2.2, "strokeDash": [18, 11]},
          "encoding": {
            "x": {"field": "start", "type": "quantitative", "axis": null},
            "x2": {"field": "end"},
            "y": {"field": "mean", "type": "quantitative", "axis": null},
            "color": {"field": "stage", "type": "nominal", "scale": {"domain": ["III", "II", "I"], "range": ["#d77aa6", "#2e9e58", "#1fa1dc"]}, "legend": null}
          }
        },
        {
          "data": {"values": [{}]},
          "mark": {"type": "text", "align": "left", "baseline": "middle", "fontSize": 17, "color": "#3a3a3a"},
          "encoding": {
            "x": {"datum": 0.13, "type": "quantitative", "axis": null},
            "y": {"datum": -5.82, "type": "quantitative", "axis": null},
            "text": {"value": "(H)"}
          }
        }
      ]
    },
    {
      "resolve": {"scale": {"color": "independent"}, "axis": {"x": "independent", "y": "independent"}},
      "layer": [
        {
          "data": {"name": "borneo"},
          "mark": {"type": "line", "strokeWidth": 1.3},
          "encoding": {
            "x": {"field": "age", "type": "quantitative", "scale": {"domain": [0, 20], "nice": false, "zero": false}, "axis": null},
            "y": {
              "field": "d18O", "type": "quantitative",
              "scale": {"domain": [-11, -6], "range": [1199.3, 1051], "nice": false, "zero": false},
              "axis": {
                "orient": "left", "values": [-11, -10, -9, -8, -7, -6],
                "labelExpr": "replace(datum.label, '−', '-')",
                "labelAngle": 270, "labelAlign": "center", "labelBaseline": "bottom", "labelPadding": 4,
                "title": ["Borneo Cave", "δ¹⁸O (‰, VPDB)"],
                "titleAngle": 270, "titleAlign": "center", "titleBaseline": "bottom", "titlePadding": 12
              }
            },
            "color": {
              "field": "series", "type": "nominal",
              "scale": {"domain": ["SCH02", "SCH03", "BA04"], "range": ["#f08cf0", "#8b1a89", "#4e3450"]},
              "legend": {
                "orient": "none", "legendX": 42, "legendY": 1063, "title": null,
                "symbolType": "M-2.5,0L2.5,0", "symbolSize": 180, "symbolStrokeWidth": 1.6,
                "labelFontSize": 16, "labelColor": "#222222", "labelOffset": 18, "rowPadding": 2
              }
            },
            "detail": {"field": "seg", "type": "nominal"}
          }
        },
        {
          "data": {"name": "stage_means"},
          "transform": [{"filter": "datum.record === 'I'"}],
          "mark": {"type": "rule", "strokeWidth": 2.2, "strokeDash": [18, 11]},
          "encoding": {
            "x": {"field": "start", "type": "quantitative", "axis": null},
            "x2": {"field": "end"},
            "y": {"field": "mean", "type": "quantitative", "axis": null},
            "color": {"field": "stage", "type": "nominal", "scale": {"domain": ["III", "II", "I"], "range": ["#d77aa6", "#2e9e58", "#1fa1dc"]}, "legend": null}
          }
        },
        {
          "data": {"values": [{}]},
          "mark": {"type": "text", "align": "left", "baseline": "middle", "fontSize": 17, "color": "#3a3a3a"},
          "encoding": {
            "x": {"datum": 0.2, "type": "quantitative", "axis": null},
            "y": {"datum": -6.19, "type": "quantitative", "axis": null},
            "text": {"value": "(I)"}
          }
        }
      ]
    },
    {
      "resolve": {"axis": {"x": "independent", "y": "independent"}},
      "layer": [
        {
          "data": {"name": "sanbao"},
          "mark": {"type": "line", "color": "#565656", "strokeWidth": 1.1},
          "encoding": {
            "x": {
              "field": "age", "type": "quantitative",
              "scale": {"domain": [0, 20], "nice": false, "zero": false},
              "axis": {
                "orient": "bottom", "values": [0,1,2,3,4,5,6,7,8,9,10,11,12,13,14,15,16,17,18,19,20],
                "labelExpr": "datum.value % 5 === 0 ? datum.label : ''",
                "labelFlush": false, "labelAngle": 0, "labelFontSize": 17, "labelPadding": 5,
                "title": "Age (Cal. ka BP)", "titleFontSize": 19, "titlePadding": 3
              }
            },
            "y": {
              "field": "d18O", "type": "quantitative",
              "scale": {"domain": [-12, -6], "range": [1327.7, 1179.3], "nice": false, "zero": false},
              "axis": {
                "orient": "right", "values": [-12, -11, -10, -9, -8, -7, -6],
                "labelExpr": "datum.value % 2 === 0 ? replace(datum.label, '−', '-') : ''",
                "labelAngle": 270, "labelAlign": "center", "labelBaseline": "top", "labelPadding": 9,
                "title": ["Sanbao Cave", "δ¹⁸O (‰, VPDB)"],
                "titleAngle": 270, "titleAlign": "center", "titleBaseline": "top", "titlePadding": -11
              }
            }
          }
        },
        {
          "data": {"name": "stage_means"},
          "transform": [{"filter": "datum.record === 'J'"}],
          "mark": {"type": "rule", "strokeWidth": 2.2, "strokeDash": [18, 11]},
          "encoding": {
            "x": {"field": "start", "type": "quantitative", "axis": null},
            "x2": {"field": "end"},
            "y": {"field": "mean", "type": "quantitative", "axis": null},
            "color": {"field": "stage", "type": "nominal", "scale": {"domain": ["III", "II", "I"], "range": ["#d77aa6", "#2e9e58", "#1fa1dc"]}, "legend": null}
          }
        },
        {
          "data": {"values": [{}]},
          "mark": {"type": "text", "align": "left", "baseline": "middle", "fontSize": 17, "color": "#3a3a3a"},
          "encoding": {
            "x": {"datum": 0.1, "type": "quantitative", "axis": null},
            "y": {"datum": -7.69, "type": "quantitative", "axis": null},
            "text": {"value": "(J)"}
          }
        }
      ]
    },
    {
      "resolve": {"axis": {"x": "independent", "y": "independent"}},
      "layer": [
        {
          "data": {"name": "precip_wedge"},
          "mark": {
            "type": "area", "orient": "horizontal",
            "color": {"x1": 0, "y1": 0, "x2": 0, "y2": 1, "gradient": "linear", "stops": [{"offset": 0, "color": "#eaf6fd"}, {"offset": 1, "color": "#0b8fdb"}]}
          },
          "encoding": {
            "y": {"field": "p", "type": "quantitative", "scale": {"domain": [0, 1], "range": [1263, 973], "nice": false, "zero": false}, "axis": null},
            "x": {"field": "lo", "type": "quantitative", "scale": {"domain": [0, 20], "nice": false, "zero": false}, "axis": null},
            "x2": {"field": "hi"}
          }
        },
        {
          "data": {"values": [{}]},
          "mark": {"type": "rule", "color": "#1fa1dc", "strokeWidth": 3.5},
          "encoding": {
            "x": {"datum": 22.97, "type": "quantitative", "axis": null},
            "x2": {"datum": 23.66},
            "y": {"datum": 1.102, "type": "quantitative", "axis": null}
          }
        },
        {
          "data": {"values": [{}]},
          "mark": {"type": "text", "align": "center", "baseline": "middle", "fontSize": 32, "fontWeight": "bold", "color": "#1fa1dc"},
          "encoding": {
            "x": {"datum": 23.22, "type": "quantitative", "axis": null},
            "y": {"datum": -0.117, "type": "quantitative", "axis": null},
            "text": {"value": "+"}
          }
        },
        {
          "data": {"values": [{}]},
          "mark": {"type": "text", "align": "center", "baseline": "middle", "fontSize": 22, "angle": 270, "color": "#2aa3dc"},
          "encoding": {
            "x": {"datum": 24.22, "type": "quantitative", "axis": null},
            "y": {"datum": 0.5, "type": "quantitative", "axis": null},
            "text": {"value": "Precipication"}
          }
        }
      ]
    }
  ]
}
